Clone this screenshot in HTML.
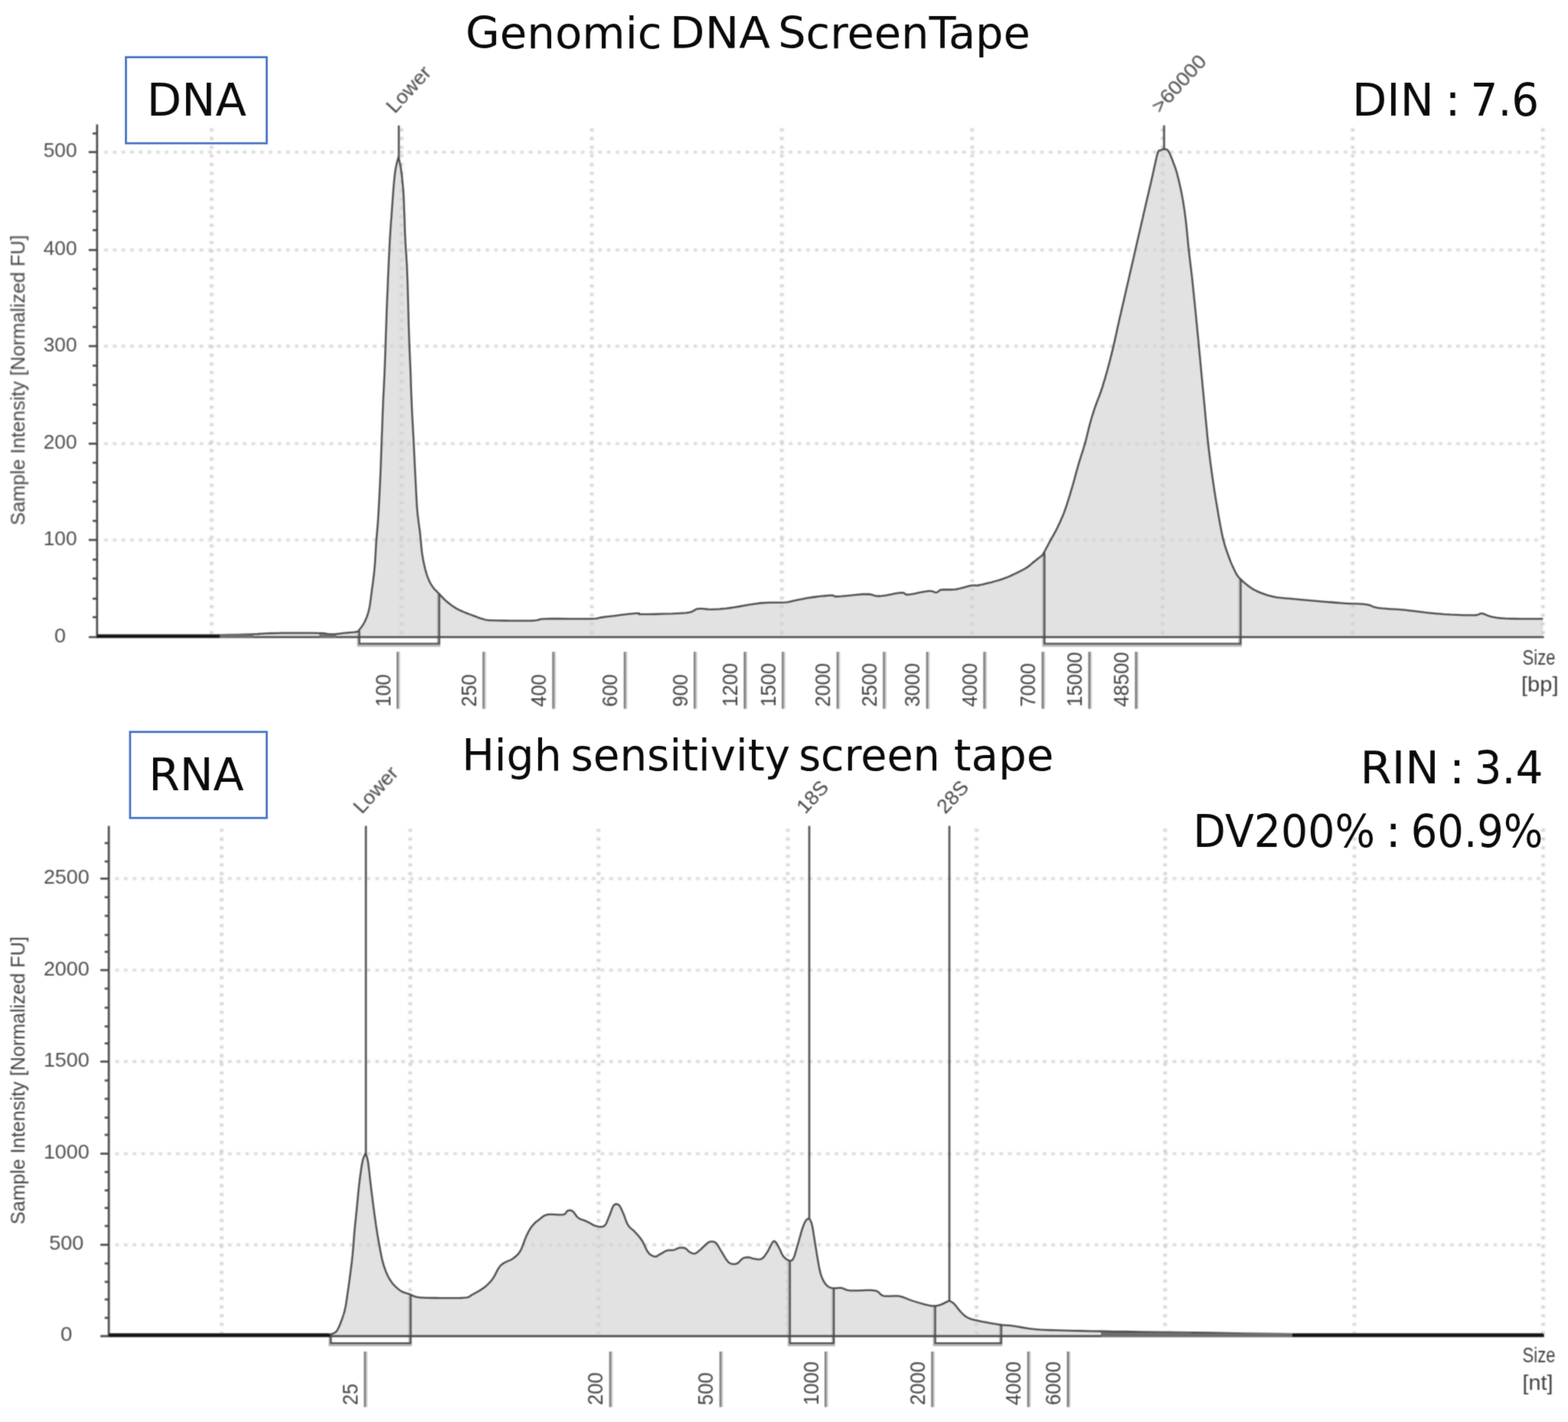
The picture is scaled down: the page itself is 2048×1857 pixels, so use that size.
<!DOCTYPE html>
<html lang="en">
<head>
<meta charset="utf-8">
<title>Genomic DNA ScreenTape / High sensitivity screen tape</title>
<style>
html,body{margin:0;padding:0;background:#fff;}
body{width:2048px;height:1857px;overflow:hidden;position:relative;font-family:"Liberation Sans","DejaVu Sans",sans-serif;}
svg{position:absolute;left:0;top:0;display:block;}
text{font-family:"Liberation Sans","DejaVu Sans",sans-serif;}
.gd{stroke:#d2d2d2;stroke-width:3.4;stroke-dasharray:4.4 6.92;fill:none;}
.gv{stroke:#d0d0d0;stroke-width:4.6;stroke-dasharray:3.6 7.72;fill:none;}
.fl{fill:#e2e2e2;stroke:none;}
.cv{fill:none;stroke:#444444;stroke-width:2.3;stroke-linejoin:round;stroke-linecap:butt;}
.rg{fill:none;stroke:#484848;stroke-width:2.0;stroke-linejoin:miter;}
.rgl{fill:none;stroke:#b4b4b4;stroke-width:4.4;stroke-linejoin:miter;}
.mk{stroke:#505050;stroke-width:2.6;}
.ax{stroke:#4a4a4a;stroke-width:2.7;}
.bk{stroke:#161616;stroke-width:4.0;}
.gb{stroke:#6e6e6e;}
.tk{stroke:#4c4c4c;stroke-width:2.7;}
.xt{stroke:#7a7a7a;stroke-width:2.6;}
.xt2{stroke:#c4c4c4;stroke-width:2.0;}
.yl{font-size:26px;fill:#4e4e4e;}
.yt{font-size:25px;fill:#444444;}
.xl{font-size:27px;fill:#404040;}
.ml{font-size:26px;fill:#444444;}
.sz{font-size:27px;fill:#404040;}
.big{fill:#0a0a0a;}
</style>
</head>
<body>
<svg width="2048" height="1857" viewBox="0 0 2048 1857">
<defs>
<filter id="soft" filterUnits="userSpaceOnUse" x="0" y="0" width="2048" height="1857" color-interpolation-filters="sRGB"><feConvolveMatrix order="3" kernelMatrix="1 2 1 2 4 2 1 2 1" divisor="16" edgeMode="none" preserveAlpha="false"/></filter>
<filter id="soft3" filterUnits="userSpaceOnUse" x="0" y="0" width="2048" height="1857" color-interpolation-filters="sRGB"><feGaussianBlur stdDeviation="0.8"/></filter>
<filter id="soft2" filterUnits="userSpaceOnUse" x="0" y="0" width="2048" height="1857" color-interpolation-filters="sRGB"><feConvolveMatrix order="3" kernelMatrix="0 1 0 1 6 1 0 1 0" divisor="10" edgeMode="none" preserveAlpha="false"/></filter>
</defs>
<rect x="0" y="0" width="2048" height="1857" fill="#ffffff"/>
<g id="charts">
<g id="dna-chart">
<g class="area">
<path class="fl" d="M126.8,829.3 L146.1,829.3 L174.3,829.3 L206.9,829.3 L239.5,829.3 L267.7,829.3 L287.0,829.3 L292.0,829.2 L299.0,829.0 L307.2,828.8 L315.8,828.6 L324.0,828.4 L331.0,828.2 L336.4,828.0 L340.7,827.7 L344.7,827.4 L348.8,827.2 L353.7,827.0 L360.0,826.8 L368.4,826.7 L378.6,826.7 L389.6,826.6 L400.4,826.7 L409.8,826.7 L417.0,826.8 L421.5,826.9 L424.1,827.2 L425.4,827.4 L426.0,827.6 L426.7,827.9 L428.0,828.0 L429.8,828.1 L431.7,828.1 L433.5,828.2 L435.3,828.1 L437.2,828.1 L439.0,828.0 L440.8,827.8 L442.5,827.6 L444.2,827.4 L446.0,827.1 L447.9,826.9 L450.0,826.6 L452.5,826.4 L455.4,826.1 L458.5,825.8 L461.5,825.6 L464.0,825.3 L466.0,825.0 L467.3,824.7 L468.0,824.3 L468.4,823.9 L468.6,823.5 L468.7,823.1 L468.9,822.9 L469.7,821.9 L470.7,820.6 L472.0,818.9 L473.3,817.1 L474.6,815.1 L475.8,813.0 L476.9,810.8 L477.9,808.5 L478.9,806.1 L479.9,803.4 L480.8,800.5 L481.7,797.2 L482.5,793.5 L483.2,789.5 L483.8,785.3 L484.4,780.8 L485.0,776.2 L485.6,771.6 L486.2,767.0 L486.9,762.2 L487.5,757.4 L488.1,752.4 L488.7,747.3 L489.2,742.0 L489.7,736.4 L490.1,730.4 L490.4,724.3 L490.8,718.2 L491.1,712.2 L491.5,706.6 L491.9,701.6 L492.3,697.0 L492.7,692.7 L493.1,688.1 L493.5,683.0 L493.9,677.0 L494.3,669.9 L494.8,662.1 L495.2,653.6 L495.7,644.9 L496.1,636.2 L496.5,627.8 L496.9,619.6 L497.2,611.5 L497.5,603.4 L497.8,595.2 L498.1,586.9 L498.4,578.5 L498.7,569.8 L499.1,560.8 L499.4,551.6 L499.7,542.6 L500.1,533.8 L500.4,525.3 L500.7,517.8 L501.1,511.3 L501.4,504.9 L501.7,498.1 L502.1,490.0 L502.5,480.0 L503.0,467.4 L503.5,452.7 L504.0,436.7 L504.6,420.4 L505.1,404.5 L505.7,390.0 L506.3,376.5 L506.8,363.1 L507.4,350.3 L507.9,338.2 L508.5,327.0 L509.0,317.0 L509.5,308.5 L509.9,301.5 L510.3,295.4 L510.7,289.8 L511.2,284.1 L511.6,278.0 L512.1,271.2 L512.6,264.1 L513.1,257.0 L513.6,250.2 L514.1,243.9 L514.6,238.5 L515.0,234.0 L515.4,230.3 L515.8,227.1 L516.1,224.2 L516.5,221.5 L517.0,218.8 L517.6,216.0 L518.2,213.2 L518.9,210.6 L519.6,208.2 L520.1,206.3 L520.5,204.8 L520.8,206.3 L521.3,208.4 L521.8,210.8 L522.4,213.5 L522.9,216.2 L523.4,218.8 L523.8,221.2 L524.1,223.6 L524.5,226.0 L524.8,228.6 L525.1,231.4 L525.4,234.5 L525.7,237.6 L526.0,240.7 L526.3,244.0 L526.7,247.8 L527.0,252.5 L527.3,258.2 L527.6,265.5 L527.9,274.0 L528.3,283.4 L528.6,293.2 L528.9,302.6 L529.3,311.4 L529.7,319.0 L530.1,325.8 L530.6,332.4 L531.0,339.4 L531.5,347.3 L531.9,356.7 L532.3,368.3 L532.7,381.8 L533.1,396.2 L533.5,410.5 L533.8,424.0 L534.2,435.5 L534.5,444.8 L534.8,452.7 L535.1,459.6 L535.4,466.1 L535.7,472.7 L536.0,480.0 L536.3,487.9 L536.6,496.1 L536.8,504.4 L537.1,512.7 L537.5,521.0 L537.8,529.3 L538.2,537.5 L538.6,545.7 L539.1,553.9 L539.5,562.1 L540.0,570.3 L540.4,578.5 L540.8,586.8 L541.2,595.3 L541.6,603.8 L542.0,612.1 L542.4,620.2 L542.8,627.8 L543.2,635.1 L543.5,642.0 L543.9,648.7 L544.2,655.2 L544.6,661.3 L545.1,667.2 L545.6,672.8 L546.3,678.0 L546.9,682.9 L547.5,687.7 L548.2,692.2 L548.7,696.7 L549.1,701.0 L549.5,705.2 L549.9,709.2 L550.2,713.0 L550.6,716.7 L551.0,720.4 L551.5,724.0 L552.1,727.4 L552.6,730.7 L553.3,734.0 L553.9,737.1 L554.6,740.1 L555.3,743.0 L556.1,745.8 L556.9,748.6 L557.7,751.1 L558.6,753.6 L559.5,755.9 L560.4,758.0 L561.3,760.0 L562.3,761.8 L563.3,763.5 L564.3,765.1 L565.4,766.7 L566.5,768.2 L567.6,769.5 L568.8,770.7 L570.1,771.9 L571.3,773.2 L572.7,774.6 L574.1,776.1 L575.6,777.8 L577.2,779.4 L578.8,781.1 L580.5,782.8 L582.2,784.4 L584.0,786.0 L586.0,787.5 L588.0,789.1 L590.0,790.6 L592.0,792.0 L594.0,793.3 L595.9,794.5 L597.8,795.5 L599.7,796.5 L601.7,797.4 L603.7,798.3 L605.8,799.2 L608.1,800.1 L610.5,801.1 L613.0,802.0 L615.5,803.0 L617.8,803.8 L620.0,804.6 L621.9,805.3 L623.5,806.0 L625.1,806.6 L626.6,807.2 L628.2,807.7 L630.0,808.2 L631.6,808.6 L632.7,809.0 L634.0,809.4 L635.8,809.7 L638.7,810.0 L643.2,810.2 L650.0,810.4 L658.8,810.5 L668.7,810.6 L678.7,810.7 L687.7,810.6 L694.8,810.5 L699.3,810.2 L701.8,809.8 L703.3,809.3 L705.0,808.8 L707.8,808.4 L712.8,808.1 L720.8,808.0 L731.1,808.0 L742.5,808.1 L754.0,808.2 L764.2,808.2 L772.0,808.1 L776.8,807.9 L779.4,807.7 L780.8,807.4 L781.9,807.0 L783.9,806.5 L787.6,806.0 L793.7,805.2 L801.5,804.3 L810.1,803.2 L818.5,802.2 L826.0,801.4 L831.5,800.9 L834.3,800.8 L834.9,801.0 L834.4,801.3 L834.2,801.8 L835.3,802.1 L839.0,802.2 L846.1,802.1 L855.9,802.0 L867.0,801.7 L878.2,801.4 L888.3,800.9 L896.0,800.4 L900.9,799.6 L904.1,798.6 L906.1,797.5 L907.6,796.5 L909.2,795.6 L911.4,795.0 L914.2,794.8 L917.0,794.9 L920.0,795.2 L923.0,795.5 L926.2,795.7 L929.5,795.8 L932.9,795.7 L936.2,795.6 L939.7,795.4 L943.4,795.0 L947.7,794.6 L952.7,794.0 L958.7,793.1 L965.5,792.0 L972.9,790.7 L980.3,789.4 L987.5,788.3 L994.0,787.5 L999.9,787.1 L1005.7,786.9 L1011.1,786.9 L1016.2,786.9 L1020.9,786.9 L1025.0,786.7 L1028.4,786.3 L1031.0,785.9 L1033.1,785.4 L1035.2,784.9 L1037.3,784.4 L1040.0,783.8 L1043.1,783.2 L1046.3,782.6 L1049.8,781.9 L1053.3,781.2 L1057.0,780.6 L1060.8,780.0 L1064.9,779.5 L1069.4,778.9 L1074.1,778.4 L1078.6,778.0 L1082.6,777.7 L1085.8,777.5 L1087.8,777.6 L1088.7,777.9 L1089.1,778.3 L1089.7,778.7 L1091.1,779.0 L1094.0,779.0 L1098.8,778.7 L1105.2,778.1 L1112.3,777.3 L1119.6,776.6 L1126.3,776.0 L1131.7,775.8 L1135.5,776.0 L1138.2,776.5 L1140.4,777.2 L1142.4,777.9 L1144.8,778.4 L1148.0,778.5 L1152.4,778.1 L1157.6,777.3 L1163.2,776.3 L1168.7,775.2 L1173.7,774.4 L1177.5,774.0 L1179.9,774.1 L1181.1,774.6 L1181.8,775.3 L1182.4,775.9 L1183.6,776.4 L1185.8,776.5 L1189.4,776.1 L1194.1,775.3 L1199.3,774.2 L1204.5,773.2 L1209.2,772.4 L1213.0,771.9 L1215.7,771.9 L1217.7,772.2 L1219.3,772.7 L1220.6,773.3 L1221.7,773.6 L1223.0,773.7 L1224.2,773.4 L1225.0,772.8 L1225.8,772.1 L1226.7,771.3 L1227.9,770.7 L1229.6,770.2 L1232.0,770.0 L1234.8,769.9 L1237.9,770.0 L1241.2,770.0 L1244.6,769.9 L1248.0,769.6 L1251.5,769.0 L1255.2,768.1 L1259.0,767.1 L1262.7,766.1 L1266.1,765.2 L1269.0,764.6 L1271.1,764.3 L1272.5,764.4 L1273.7,764.5 L1274.9,764.6 L1276.8,764.5 L1279.6,764.0 L1283.7,763.1 L1288.6,761.9 L1294.2,760.6 L1299.9,759.0 L1305.6,757.3 L1310.8,755.6 L1315.7,753.7 L1320.7,751.6 L1325.6,749.3 L1330.2,747.1 L1334.4,744.9 L1338.0,743.0 L1340.9,741.3 L1343.1,739.7 L1345.0,738.3 L1346.6,736.9 L1348.2,735.5 L1350.0,734.0 L1352.1,732.3 L1354.4,730.5 L1356.7,728.7 L1358.8,727.1 L1360.6,725.6 L1361.9,724.6 L1362.2,724.0 L1362.7,723.1 L1363.2,722.1 L1363.8,721.0 L1364.3,720.1 L1364.6,719.5 L1365.3,718.2 L1366.2,716.5 L1367.3,714.5 L1368.5,712.2 L1369.8,709.7 L1371.2,707.2 L1372.6,704.6 L1374.2,701.8 L1375.9,698.9 L1377.6,695.8 L1379.3,692.6 L1381.0,689.2 L1382.6,685.8 L1384.3,682.2 L1385.9,678.5 L1387.6,674.7 L1389.3,670.6 L1390.9,666.2 L1392.6,661.5 L1394.2,656.3 L1395.9,651.0 L1397.6,645.6 L1399.2,640.2 L1400.7,635.0 L1402.2,629.9 L1403.6,624.9 L1404.9,619.9 L1406.2,615.0 L1407.6,610.2 L1408.9,605.5 L1410.3,600.9 L1411.7,596.5 L1413.1,592.1 L1414.5,587.8 L1415.8,583.5 L1417.1,579.2 L1418.3,574.8 L1419.4,570.3 L1420.5,565.8 L1421.6,561.4 L1422.6,557.1 L1423.7,553.0 L1424.8,549.2 L1425.8,545.5 L1426.9,542.0 L1428.0,538.6 L1429.1,535.2 L1430.3,531.6 L1431.6,528.0 L1432.9,524.5 L1434.3,520.9 L1435.7,517.3 L1437.1,513.5 L1438.5,509.5 L1439.9,505.3 L1441.2,500.9 L1442.6,496.3 L1444.0,491.6 L1445.4,486.8 L1446.7,482.0 L1448.0,477.1 L1449.4,472.0 L1450.7,466.8 L1452.0,461.6 L1453.3,456.4 L1454.5,451.2 L1455.7,446.0 L1456.9,440.6 L1458.1,435.3 L1459.2,430.0 L1460.3,424.9 L1461.4,420.0 L1462.4,415.5 L1463.4,411.4 L1464.3,407.4 L1465.2,403.4 L1466.2,399.1 L1467.3,394.4 L1468.5,389.2 L1469.8,383.6 L1471.1,377.8 L1472.5,371.8 L1473.9,365.8 L1475.2,360.0 L1476.5,354.2 L1477.8,348.5 L1479.2,342.7 L1480.5,337.0 L1481.8,331.2 L1483.1,325.5 L1484.4,319.8 L1485.7,314.2 L1487.0,308.5 L1488.3,302.9 L1489.6,297.2 L1490.9,291.5 L1492.3,285.7 L1493.6,279.7 L1495.0,273.7 L1496.4,267.8 L1497.7,262.1 L1499.0,256.6 L1500.2,251.5 L1501.3,246.6 L1502.4,241.9 L1503.5,237.3 L1504.5,232.7 L1505.6,228.0 L1506.7,223.0 L1507.8,217.7 L1509.0,212.4 L1510.1,207.5 L1511.1,203.3 L1512.0,200.0 L1512.8,198.0 L1513.5,196.9 L1514.1,196.5 L1514.7,196.5 L1515.3,196.5 L1516.0,196.3 L1516.7,195.9 L1517.4,195.5 L1518.1,195.2 L1518.8,195.0 L1519.6,194.9 L1520.4,194.9 L1521.2,194.9 L1522.1,194.9 L1523.0,195.0 L1523.9,195.3 L1524.8,195.9 L1525.8,197.0 L1526.8,198.5 L1527.8,200.5 L1528.8,202.8 L1529.8,205.3 L1530.9,207.9 L1531.9,210.6 L1532.9,213.3 L1533.9,216.0 L1535.0,218.9 L1536.0,222.0 L1537.0,225.3 L1538.0,229.0 L1539.0,233.0 L1540.1,237.4 L1541.1,242.0 L1542.2,246.8 L1543.2,251.7 L1544.1,256.6 L1545.0,261.4 L1545.8,266.3 L1546.5,271.2 L1547.3,276.3 L1548.0,281.6 L1548.7,287.2 L1549.4,293.1 L1550.0,299.4 L1550.7,305.9 L1551.3,312.4 L1551.9,319.0 L1552.6,325.5 L1553.3,331.9 L1554.1,338.3 L1554.8,344.7 L1555.6,351.0 L1556.4,357.4 L1557.1,363.8 L1557.8,370.2 L1558.4,376.5 L1559.1,382.9 L1559.7,389.3 L1560.4,395.6 L1561.0,402.0 L1561.7,408.5 L1562.3,415.1 L1563.0,421.7 L1563.6,428.2 L1564.2,434.4 L1564.8,440.3 L1565.3,445.5 L1565.7,449.9 L1566.1,454.2 L1566.5,458.6 L1567.0,463.7 L1567.6,470.0 L1568.3,477.6 L1569.1,486.2 L1570.0,495.5 L1570.9,505.1 L1571.8,514.7 L1572.7,524.0 L1573.6,533.2 L1574.4,542.5 L1575.3,551.8 L1576.2,561.0 L1577.0,569.8 L1577.9,578.0 L1578.7,585.6 L1579.6,592.6 L1580.4,599.3 L1581.2,605.8 L1582.1,612.3 L1583.0,619.0 L1584.0,625.9 L1585.0,632.8 L1586.0,639.6 L1587.1,646.5 L1588.2,653.4 L1589.4,660.3 L1590.6,667.3 L1591.8,674.6 L1593.1,681.8 L1594.4,688.9 L1595.7,695.4 L1597.0,701.4 L1598.3,706.7 L1599.6,711.4 L1600.9,715.6 L1602.3,719.6 L1603.6,723.4 L1604.9,727.0 L1606.2,730.5 L1607.5,733.8 L1608.8,736.9 L1610.1,739.8 L1611.4,742.5 L1612.6,745.0 L1613.7,747.2 L1614.6,748.9 L1615.4,750.5 L1616.5,752.1 L1617.8,753.7 L1619.6,755.6 L1621.9,757.8 L1624.6,760.3 L1627.6,762.9 L1630.9,765.5 L1634.3,767.9 L1637.8,770.0 L1641.5,771.9 L1645.3,773.6 L1649.4,775.1 L1653.5,776.6 L1657.7,777.8 L1662.0,778.9 L1666.3,779.8 L1670.6,780.4 L1675.0,780.9 L1679.5,781.3 L1684.1,781.7 L1689.0,782.2 L1694.1,782.7 L1699.5,783.2 L1705.1,783.7 L1710.7,784.2 L1716.4,784.6 L1722.0,785.1 L1727.6,785.6 L1733.3,786.1 L1739.1,786.5 L1744.7,787.0 L1750.3,787.4 L1755.6,787.8 L1760.8,788.1 L1766.0,788.3 L1771.1,788.4 L1776.0,788.6 L1780.4,788.9 L1784.4,789.3 L1787.5,789.9 L1789.8,790.6 L1791.8,791.5 L1793.8,792.3 L1796.4,793.1 L1800.0,793.8 L1804.8,794.4 L1810.6,794.9 L1816.8,795.3 L1823.3,795.7 L1829.7,796.2 L1835.6,796.7 L1841.1,797.3 L1846.4,797.9 L1851.6,798.6 L1856.7,799.2 L1861.7,799.9 L1866.7,800.4 L1871.6,800.9 L1876.4,801.3 L1881.2,801.7 L1885.9,802.1 L1890.7,802.4 L1895.6,802.7 L1900.9,802.9 L1906.6,803.1 L1912.4,803.3 L1917.9,803.4 L1922.8,803.4 L1926.7,803.3 L1929.4,803.0 L1931.1,802.5 L1932.3,802.0 L1933.1,801.4 L1934.1,801.1 L1935.6,801.1 L1937.5,801.5 L1939.4,802.2 L1941.4,803.1 L1943.7,804.0 L1946.1,804.9 L1948.9,805.6 L1951.8,806.1 L1954.8,806.6 L1958.0,807.0 L1961.7,807.3 L1965.9,807.6 L1971.0,807.8 L1977.6,808.0 L1985.8,808.1 L1994.5,808.1 L2003.0,808.2 L2010.2,808.2 L2015.3,808.2 L2015.3,832.0 L126.8,832.0 Z"/>
<g class="grid" filter="url(#soft3)">
<line class="gd" x1="136.28" y1="705.1" x2="2015.6" y2="705.1"/>
<line class="gd" x1="136.28" y1="579.4" x2="2015.6" y2="579.4"/>
<line class="gd" x1="136.28" y1="452.0" x2="2015.6" y2="452.0"/>
<line class="gd" x1="136.28" y1="326.5" x2="2015.6" y2="326.5"/>
<line class="gd" x1="136.28" y1="198.6" x2="2015.6" y2="198.6"/>
<line class="gv" x1="276.4" y1="167.78" x2="276.4" y2="829.0"/>
<line class="gv" x1="524.4" y1="167.78" x2="524.4" y2="829.0"/>
<line class="gv" x1="773.0" y1="167.78" x2="773.0" y2="829.0"/>
<line class="gv" x1="1021.2" y1="167.78" x2="1021.2" y2="829.0"/>
<line class="gv" x1="1269.8" y1="167.78" x2="1269.8" y2="829.0"/>
<line class="gv" x1="1518.6" y1="167.78" x2="1518.6" y2="829.0"/>
<line class="gv" x1="1766.7" y1="167.78" x2="1766.7" y2="829.0"/>
<line class="gv" x1="2015.2" y1="167.78" x2="2015.2" y2="829.0"/>
</g>
</g>
<g class="lines" filter="url(#soft)">
<path class="rgl" d="M468.6,824.5 L468.6,842.4 L573.0,842.4 L573.0,775.9"/>
<path class="rg" d="M469.3,823.5 L469.3,840.6 L573.7,840.6 L573.7,774.9"/>
<path class="rgl" d="M1363.5,722.6 L1363.5,842.4 L1619.8,842.4 L1619.8,756.8"/>
<path class="rg" d="M1364.2,721.6 L1364.2,840.6 L1620.5,840.6 L1620.5,755.8"/>
<path class="cv" d="M126.8,829.3 L146.1,829.3 L174.3,829.3 L206.9,829.3 L239.5,829.3 L267.7,829.3 L287.0,829.3 L292.0,829.2 L299.0,829.0 L307.2,828.8 L315.8,828.6 L324.0,828.4 L331.0,828.2 L336.4,828.0 L340.7,827.7 L344.7,827.4 L348.8,827.2 L353.7,827.0 L360.0,826.8 L368.4,826.7 L378.6,826.7 L389.6,826.6 L400.4,826.7 L409.8,826.7 L417.0,826.8 L421.5,826.9 L424.1,827.2 L425.4,827.4 L426.0,827.6 L426.7,827.9 L428.0,828.0 L429.8,828.1 L431.7,828.1 L433.5,828.2 L435.3,828.1 L437.2,828.1 L439.0,828.0 L440.8,827.8 L442.5,827.6 L444.2,827.4 L446.0,827.1 L447.9,826.9 L450.0,826.6 L452.5,826.4 L455.4,826.1 L458.5,825.8 L461.5,825.6 L464.0,825.3 L466.0,825.0 L467.3,824.7 L468.0,824.3 L468.4,823.9 L468.6,823.5 L468.7,823.1 L468.9,822.9 L469.7,821.9 L470.7,820.6 L472.0,818.9 L473.3,817.1 L474.6,815.1 L475.8,813.0 L476.9,810.8 L477.9,808.5 L478.9,806.1 L479.9,803.4 L480.8,800.5 L481.7,797.2 L482.5,793.5 L483.2,789.5 L483.8,785.3 L484.4,780.8 L485.0,776.2 L485.6,771.6 L486.2,767.0 L486.9,762.2 L487.5,757.4 L488.1,752.4 L488.7,747.3 L489.2,742.0 L489.7,736.4 L490.1,730.4 L490.4,724.3 L490.8,718.2 L491.1,712.2 L491.5,706.6 L491.9,701.6 L492.3,697.0 L492.7,692.7 L493.1,688.1 L493.5,683.0 L493.9,677.0 L494.3,669.9 L494.8,662.1 L495.2,653.6 L495.7,644.9 L496.1,636.2 L496.5,627.8 L496.9,619.6 L497.2,611.5 L497.5,603.4 L497.8,595.2 L498.1,586.9 L498.4,578.5 L498.7,569.8 L499.1,560.8 L499.4,551.6 L499.7,542.6 L500.1,533.8 L500.4,525.3 L500.7,517.8 L501.1,511.3 L501.4,504.9 L501.7,498.1 L502.1,490.0 L502.5,480.0 L503.0,467.4 L503.5,452.7 L504.0,436.7 L504.6,420.4 L505.1,404.5 L505.7,390.0 L506.3,376.5 L506.8,363.1 L507.4,350.3 L507.9,338.2 L508.5,327.0 L509.0,317.0 L509.5,308.5 L509.9,301.5 L510.3,295.4 L510.7,289.8 L511.2,284.1 L511.6,278.0 L512.1,271.2 L512.6,264.1 L513.1,257.0 L513.6,250.2 L514.1,243.9 L514.6,238.5 L515.0,234.0 L515.4,230.3 L515.8,227.1 L516.1,224.2 L516.5,221.5 L517.0,218.8 L517.6,216.0 L518.2,213.2 L518.9,210.6 L519.6,208.2 L520.1,206.3 L520.5,204.8 L520.8,206.3 L521.3,208.4 L521.8,210.8 L522.4,213.5 L522.9,216.2 L523.4,218.8 L523.8,221.2 L524.1,223.6 L524.5,226.0 L524.8,228.6 L525.1,231.4 L525.4,234.5 L525.7,237.6 L526.0,240.7 L526.3,244.0 L526.7,247.8 L527.0,252.5 L527.3,258.2 L527.6,265.5 L527.9,274.0 L528.3,283.4 L528.6,293.2 L528.9,302.6 L529.3,311.4 L529.7,319.0 L530.1,325.8 L530.6,332.4 L531.0,339.4 L531.5,347.3 L531.9,356.7 L532.3,368.3 L532.7,381.8 L533.1,396.2 L533.5,410.5 L533.8,424.0 L534.2,435.5 L534.5,444.8 L534.8,452.7 L535.1,459.6 L535.4,466.1 L535.7,472.7 L536.0,480.0 L536.3,487.9 L536.6,496.1 L536.8,504.4 L537.1,512.7 L537.5,521.0 L537.8,529.3 L538.2,537.5 L538.6,545.7 L539.1,553.9 L539.5,562.1 L540.0,570.3 L540.4,578.5 L540.8,586.8 L541.2,595.3 L541.6,603.8 L542.0,612.1 L542.4,620.2 L542.8,627.8 L543.2,635.1 L543.5,642.0 L543.9,648.7 L544.2,655.2 L544.6,661.3 L545.1,667.2 L545.6,672.8 L546.3,678.0 L546.9,682.9 L547.5,687.7 L548.2,692.2 L548.7,696.7 L549.1,701.0 L549.5,705.2 L549.9,709.2 L550.2,713.0 L550.6,716.7 L551.0,720.4 L551.5,724.0 L552.1,727.4 L552.6,730.7 L553.3,734.0 L553.9,737.1 L554.6,740.1 L555.3,743.0 L556.1,745.8 L556.9,748.6 L557.7,751.1 L558.6,753.6 L559.5,755.9 L560.4,758.0 L561.3,760.0 L562.3,761.8 L563.3,763.5 L564.3,765.1 L565.4,766.7 L566.5,768.2 L567.6,769.5 L568.8,770.7 L570.1,771.9 L571.3,773.2 L572.7,774.6 L574.1,776.1 L575.6,777.8 L577.2,779.4 L578.8,781.1 L580.5,782.8 L582.2,784.4 L584.0,786.0 L586.0,787.5 L588.0,789.1 L590.0,790.6 L592.0,792.0 L594.0,793.3 L595.9,794.5 L597.8,795.5 L599.7,796.5 L601.7,797.4 L603.7,798.3 L605.8,799.2 L608.1,800.1 L610.5,801.1 L613.0,802.0 L615.5,803.0 L617.8,803.8 L620.0,804.6 L621.9,805.3 L623.5,806.0 L625.1,806.6 L626.6,807.2 L628.2,807.7 L630.0,808.2 L631.6,808.6 L632.7,809.0 L634.0,809.4 L635.8,809.7 L638.7,810.0 L643.2,810.2 L650.0,810.4 L658.8,810.5 L668.7,810.6 L678.7,810.7 L687.7,810.6 L694.8,810.5 L699.3,810.2 L701.8,809.8 L703.3,809.3 L705.0,808.8 L707.8,808.4 L712.8,808.1 L720.8,808.0 L731.1,808.0 L742.5,808.1 L754.0,808.2 L764.2,808.2 L772.0,808.1 L776.8,807.9 L779.4,807.7 L780.8,807.4 L781.9,807.0 L783.9,806.5 L787.6,806.0 L793.7,805.2 L801.5,804.3 L810.1,803.2 L818.5,802.2 L826.0,801.4 L831.5,800.9 L834.3,800.8 L834.9,801.0 L834.4,801.3 L834.2,801.8 L835.3,802.1 L839.0,802.2 L846.1,802.1 L855.9,802.0 L867.0,801.7 L878.2,801.4 L888.3,800.9 L896.0,800.4 L900.9,799.6 L904.1,798.6 L906.1,797.5 L907.6,796.5 L909.2,795.6 L911.4,795.0 L914.2,794.8 L917.0,794.9 L920.0,795.2 L923.0,795.5 L926.2,795.7 L929.5,795.8 L932.9,795.7 L936.2,795.6 L939.7,795.4 L943.4,795.0 L947.7,794.6 L952.7,794.0 L958.7,793.1 L965.5,792.0 L972.9,790.7 L980.3,789.4 L987.5,788.3 L994.0,787.5 L999.9,787.1 L1005.7,786.9 L1011.1,786.9 L1016.2,786.9 L1020.9,786.9 L1025.0,786.7 L1028.4,786.3 L1031.0,785.9 L1033.1,785.4 L1035.2,784.9 L1037.3,784.4 L1040.0,783.8 L1043.1,783.2 L1046.3,782.6 L1049.8,781.9 L1053.3,781.2 L1057.0,780.6 L1060.8,780.0 L1064.9,779.5 L1069.4,778.9 L1074.1,778.4 L1078.6,778.0 L1082.6,777.7 L1085.8,777.5 L1087.8,777.6 L1088.7,777.9 L1089.1,778.3 L1089.7,778.7 L1091.1,779.0 L1094.0,779.0 L1098.8,778.7 L1105.2,778.1 L1112.3,777.3 L1119.6,776.6 L1126.3,776.0 L1131.7,775.8 L1135.5,776.0 L1138.2,776.5 L1140.4,777.2 L1142.4,777.9 L1144.8,778.4 L1148.0,778.5 L1152.4,778.1 L1157.6,777.3 L1163.2,776.3 L1168.7,775.2 L1173.7,774.4 L1177.5,774.0 L1179.9,774.1 L1181.1,774.6 L1181.8,775.3 L1182.4,775.9 L1183.6,776.4 L1185.8,776.5 L1189.4,776.1 L1194.1,775.3 L1199.3,774.2 L1204.5,773.2 L1209.2,772.4 L1213.0,771.9 L1215.7,771.9 L1217.7,772.2 L1219.3,772.7 L1220.6,773.3 L1221.7,773.6 L1223.0,773.7 L1224.2,773.4 L1225.0,772.8 L1225.8,772.1 L1226.7,771.3 L1227.9,770.7 L1229.6,770.2 L1232.0,770.0 L1234.8,769.9 L1237.9,770.0 L1241.2,770.0 L1244.6,769.9 L1248.0,769.6 L1251.5,769.0 L1255.2,768.1 L1259.0,767.1 L1262.7,766.1 L1266.1,765.2 L1269.0,764.6 L1271.1,764.3 L1272.5,764.4 L1273.7,764.5 L1274.9,764.6 L1276.8,764.5 L1279.6,764.0 L1283.7,763.1 L1288.6,761.9 L1294.2,760.6 L1299.9,759.0 L1305.6,757.3 L1310.8,755.6 L1315.7,753.7 L1320.7,751.6 L1325.6,749.3 L1330.2,747.1 L1334.4,744.9 L1338.0,743.0 L1340.9,741.3 L1343.1,739.7 L1345.0,738.3 L1346.6,736.9 L1348.2,735.5 L1350.0,734.0 L1352.1,732.3 L1354.4,730.5 L1356.7,728.7 L1358.8,727.1 L1360.6,725.6 L1361.9,724.6 L1362.2,724.0 L1362.7,723.1 L1363.2,722.1 L1363.8,721.0 L1364.3,720.1 L1364.6,719.5 L1365.3,718.2 L1366.2,716.5 L1367.3,714.5 L1368.5,712.2 L1369.8,709.7 L1371.2,707.2 L1372.6,704.6 L1374.2,701.8 L1375.9,698.9 L1377.6,695.8 L1379.3,692.6 L1381.0,689.2 L1382.6,685.8 L1384.3,682.2 L1385.9,678.5 L1387.6,674.7 L1389.3,670.6 L1390.9,666.2 L1392.6,661.5 L1394.2,656.3 L1395.9,651.0 L1397.6,645.6 L1399.2,640.2 L1400.7,635.0 L1402.2,629.9 L1403.6,624.9 L1404.9,619.9 L1406.2,615.0 L1407.6,610.2 L1408.9,605.5 L1410.3,600.9 L1411.7,596.5 L1413.1,592.1 L1414.5,587.8 L1415.8,583.5 L1417.1,579.2 L1418.3,574.8 L1419.4,570.3 L1420.5,565.8 L1421.6,561.4 L1422.6,557.1 L1423.7,553.0 L1424.8,549.2 L1425.8,545.5 L1426.9,542.0 L1428.0,538.6 L1429.1,535.2 L1430.3,531.6 L1431.6,528.0 L1432.9,524.5 L1434.3,520.9 L1435.7,517.3 L1437.1,513.5 L1438.5,509.5 L1439.9,505.3 L1441.2,500.9 L1442.6,496.3 L1444.0,491.6 L1445.4,486.8 L1446.7,482.0 L1448.0,477.1 L1449.4,472.0 L1450.7,466.8 L1452.0,461.6 L1453.3,456.4 L1454.5,451.2 L1455.7,446.0 L1456.9,440.6 L1458.1,435.3 L1459.2,430.0 L1460.3,424.9 L1461.4,420.0 L1462.4,415.5 L1463.4,411.4 L1464.3,407.4 L1465.2,403.4 L1466.2,399.1 L1467.3,394.4 L1468.5,389.2 L1469.8,383.6 L1471.1,377.8 L1472.5,371.8 L1473.9,365.8 L1475.2,360.0 L1476.5,354.2 L1477.8,348.5 L1479.2,342.7 L1480.5,337.0 L1481.8,331.2 L1483.1,325.5 L1484.4,319.8 L1485.7,314.2 L1487.0,308.5 L1488.3,302.9 L1489.6,297.2 L1490.9,291.5 L1492.3,285.7 L1493.6,279.7 L1495.0,273.7 L1496.4,267.8 L1497.7,262.1 L1499.0,256.6 L1500.2,251.5 L1501.3,246.6 L1502.4,241.9 L1503.5,237.3 L1504.5,232.7 L1505.6,228.0 L1506.7,223.0 L1507.8,217.7 L1509.0,212.4 L1510.1,207.5 L1511.1,203.3 L1512.0,200.0 L1512.8,198.0 L1513.5,196.9 L1514.1,196.5 L1514.7,196.5 L1515.3,196.5 L1516.0,196.3 L1516.7,195.9 L1517.4,195.5 L1518.1,195.2 L1518.8,195.0 L1519.6,194.9 L1520.4,194.9 L1521.2,194.9 L1522.1,194.9 L1523.0,195.0 L1523.9,195.3 L1524.8,195.9 L1525.8,197.0 L1526.8,198.5 L1527.8,200.5 L1528.8,202.8 L1529.8,205.3 L1530.9,207.9 L1531.9,210.6 L1532.9,213.3 L1533.9,216.0 L1535.0,218.9 L1536.0,222.0 L1537.0,225.3 L1538.0,229.0 L1539.0,233.0 L1540.1,237.4 L1541.1,242.0 L1542.2,246.8 L1543.2,251.7 L1544.1,256.6 L1545.0,261.4 L1545.8,266.3 L1546.5,271.2 L1547.3,276.3 L1548.0,281.6 L1548.7,287.2 L1549.4,293.1 L1550.0,299.4 L1550.7,305.9 L1551.3,312.4 L1551.9,319.0 L1552.6,325.5 L1553.3,331.9 L1554.1,338.3 L1554.8,344.7 L1555.6,351.0 L1556.4,357.4 L1557.1,363.8 L1557.8,370.2 L1558.4,376.5 L1559.1,382.9 L1559.7,389.3 L1560.4,395.6 L1561.0,402.0 L1561.7,408.5 L1562.3,415.1 L1563.0,421.7 L1563.6,428.2 L1564.2,434.4 L1564.8,440.3 L1565.3,445.5 L1565.7,449.9 L1566.1,454.2 L1566.5,458.6 L1567.0,463.7 L1567.6,470.0 L1568.3,477.6 L1569.1,486.2 L1570.0,495.5 L1570.9,505.1 L1571.8,514.7 L1572.7,524.0 L1573.6,533.2 L1574.4,542.5 L1575.3,551.8 L1576.2,561.0 L1577.0,569.8 L1577.9,578.0 L1578.7,585.6 L1579.6,592.6 L1580.4,599.3 L1581.2,605.8 L1582.1,612.3 L1583.0,619.0 L1584.0,625.9 L1585.0,632.8 L1586.0,639.6 L1587.1,646.5 L1588.2,653.4 L1589.4,660.3 L1590.6,667.3 L1591.8,674.6 L1593.1,681.8 L1594.4,688.9 L1595.7,695.4 L1597.0,701.4 L1598.3,706.7 L1599.6,711.4 L1600.9,715.6 L1602.3,719.6 L1603.6,723.4 L1604.9,727.0 L1606.2,730.5 L1607.5,733.8 L1608.8,736.9 L1610.1,739.8 L1611.4,742.5 L1612.6,745.0 L1613.7,747.2 L1614.6,748.9 L1615.4,750.5 L1616.5,752.1 L1617.8,753.7 L1619.6,755.6 L1621.9,757.8 L1624.6,760.3 L1627.6,762.9 L1630.9,765.5 L1634.3,767.9 L1637.8,770.0 L1641.5,771.9 L1645.3,773.6 L1649.4,775.1 L1653.5,776.6 L1657.7,777.8 L1662.0,778.9 L1666.3,779.8 L1670.6,780.4 L1675.0,780.9 L1679.5,781.3 L1684.1,781.7 L1689.0,782.2 L1694.1,782.7 L1699.5,783.2 L1705.1,783.7 L1710.7,784.2 L1716.4,784.6 L1722.0,785.1 L1727.6,785.6 L1733.3,786.1 L1739.1,786.5 L1744.7,787.0 L1750.3,787.4 L1755.6,787.8 L1760.8,788.1 L1766.0,788.3 L1771.1,788.4 L1776.0,788.6 L1780.4,788.9 L1784.4,789.3 L1787.5,789.9 L1789.8,790.6 L1791.8,791.5 L1793.8,792.3 L1796.4,793.1 L1800.0,793.8 L1804.8,794.4 L1810.6,794.9 L1816.8,795.3 L1823.3,795.7 L1829.7,796.2 L1835.6,796.7 L1841.1,797.3 L1846.4,797.9 L1851.6,798.6 L1856.7,799.2 L1861.7,799.9 L1866.7,800.4 L1871.6,800.9 L1876.4,801.3 L1881.2,801.7 L1885.9,802.1 L1890.7,802.4 L1895.6,802.7 L1900.9,802.9 L1906.6,803.1 L1912.4,803.3 L1917.9,803.4 L1922.8,803.4 L1926.7,803.3 L1929.4,803.0 L1931.1,802.5 L1932.3,802.0 L1933.1,801.4 L1934.1,801.1 L1935.6,801.1 L1937.5,801.5 L1939.4,802.2 L1941.4,803.1 L1943.7,804.0 L1946.1,804.9 L1948.9,805.6 L1951.8,806.1 L1954.8,806.6 L1958.0,807.0 L1961.7,807.3 L1965.9,807.6 L1971.0,807.8 L1977.6,808.0 L1985.8,808.1 L1994.5,808.1 L2003.0,808.2 L2010.2,808.2 L2015.3,808.2"/>
<line class="mk" x1="520.9" y1="163.8" x2="520.9" y2="206.6"/>
<line class="mk" x1="1520.4" y1="163.7" x2="1520.4" y2="194.9"/>
<line class="ax" x1="126.8" y1="162.6" x2="126.8" y2="833.3"/>
<line class="ax" x1="115.8" y1="832.0" x2="2016.6" y2="832.0"/>
<line class="gb" stroke-width="4.8" x1="287.0" y1="830.7" x2="331.0" y2="830.7"/>
<line class="gb" stroke-width="4.8" x1="417.0" y1="830.7" x2="439.0" y2="830.7"/>
<line class="bk" x1="126.8" y1="830.9" x2="287.0" y2="830.9"/>
<line class="tk" x1="115.8" y1="705.1" x2="126.8" y2="705.1"/>
<line class="tk" x1="115.8" y1="579.4" x2="126.8" y2="579.4"/>
<line class="tk" x1="115.8" y1="452.0" x2="126.8" y2="452.0"/>
<line class="tk" x1="115.8" y1="326.5" x2="126.8" y2="326.5"/>
<line class="tk" x1="115.8" y1="198.6" x2="126.8" y2="198.6"/>
<line class="tk" x1="121.0" y1="174.3" x2="126.8" y2="174.3"/>
<line class="tk" x1="121.0" y1="224.5" x2="126.8" y2="224.5"/>
<line class="tk" x1="121.0" y1="249.8" x2="126.8" y2="249.8"/>
<line class="tk" x1="121.0" y1="276.0" x2="126.8" y2="276.0"/>
<line class="tk" x1="121.0" y1="300.6" x2="126.8" y2="300.6"/>
<line class="tk" x1="121.0" y1="351.8" x2="126.8" y2="351.8"/>
<line class="tk" x1="121.0" y1="377.0" x2="126.8" y2="377.0"/>
<line class="tk" x1="121.0" y1="402.0" x2="126.8" y2="402.0"/>
<line class="tk" x1="121.0" y1="427.0" x2="126.8" y2="427.0"/>
<line class="tk" x1="121.0" y1="477.5" x2="126.8" y2="477.5"/>
<line class="tk" x1="121.0" y1="502.8" x2="126.8" y2="502.8"/>
<line class="tk" x1="121.0" y1="528.3" x2="126.8" y2="528.3"/>
<line class="tk" x1="121.0" y1="552.6" x2="126.8" y2="552.6"/>
<line class="tk" x1="121.0" y1="604.3" x2="126.8" y2="604.3"/>
<line class="tk" x1="121.0" y1="630.0" x2="126.8" y2="630.0"/>
<line class="tk" x1="121.0" y1="654.9" x2="126.8" y2="654.9"/>
<line class="tk" x1="121.0" y1="680.2" x2="126.8" y2="680.2"/>
<line class="tk" x1="121.0" y1="730.8" x2="126.8" y2="730.8"/>
<line class="tk" x1="121.0" y1="755.5" x2="126.8" y2="755.5"/>
<line class="tk" x1="121.0" y1="781.8" x2="126.8" y2="781.8"/>
<line class="tk" x1="121.0" y1="806.0" x2="126.8" y2="806.0"/>
<line class="xt" x1="519.3" y1="851.2" x2="519.3" y2="925.6"/>
<line class="xt2" x1="521.5" y1="851.2" x2="521.5" y2="925.6"/>
<line class="xt" x1="631.5" y1="851.2" x2="631.5" y2="925.6"/>
<line class="xt2" x1="633.7" y1="851.2" x2="633.7" y2="925.6"/>
<line class="xt" x1="722.6" y1="851.2" x2="722.6" y2="925.6"/>
<line class="xt2" x1="724.8" y1="851.2" x2="724.8" y2="925.6"/>
<line class="xt" x1="816.0" y1="851.2" x2="816.0" y2="925.6"/>
<line class="xt2" x1="818.2" y1="851.2" x2="818.2" y2="925.6"/>
<line class="xt" x1="907.3" y1="851.2" x2="907.3" y2="925.6"/>
<line class="xt2" x1="909.5" y1="851.2" x2="909.5" y2="925.6"/>
<line class="xt" x1="972.7" y1="851.2" x2="972.7" y2="925.6"/>
<line class="xt2" x1="974.9" y1="851.2" x2="974.9" y2="925.6"/>
<line class="xt" x1="1022.4" y1="851.2" x2="1022.4" y2="925.6"/>
<line class="xt2" x1="1024.6" y1="851.2" x2="1024.6" y2="925.6"/>
<line class="xt" x1="1094.0" y1="851.2" x2="1094.0" y2="925.6"/>
<line class="xt2" x1="1096.2" y1="851.2" x2="1096.2" y2="925.6"/>
<line class="xt" x1="1154.5" y1="851.2" x2="1154.5" y2="925.6"/>
<line class="xt2" x1="1156.7" y1="851.2" x2="1156.7" y2="925.6"/>
<line class="xt" x1="1211.0" y1="851.2" x2="1211.0" y2="925.6"/>
<line class="xt2" x1="1213.2" y1="851.2" x2="1213.2" y2="925.6"/>
<line class="xt" x1="1285.6" y1="851.2" x2="1285.6" y2="925.6"/>
<line class="xt2" x1="1287.8" y1="851.2" x2="1287.8" y2="925.6"/>
<line class="xt" x1="1361.8" y1="851.2" x2="1361.8" y2="925.6"/>
<line class="xt2" x1="1364.0" y1="851.2" x2="1364.0" y2="925.6"/>
<line class="xt" x1="1422.7" y1="851.2" x2="1422.7" y2="925.6"/>
<line class="xt2" x1="1424.9" y1="851.2" x2="1424.9" y2="925.6"/>
<line class="xt" x1="1483.7" y1="851.2" x2="1483.7" y2="925.6"/>
<line class="xt2" x1="1485.9" y1="851.2" x2="1485.9" y2="925.6"/>
</g>
<g class="labels" filter="url(#soft)">
<text class="yl" x="78.6" y="838.6" text-anchor="middle" textLength="15.0" lengthAdjust="spacingAndGlyphs">0</text>
<text class="yl" x="78.6" y="711.7" text-anchor="middle" textLength="43.8" lengthAdjust="spacingAndGlyphs">100</text>
<text class="yl" x="78.6" y="586.0" text-anchor="middle" textLength="43.8" lengthAdjust="spacingAndGlyphs">200</text>
<text class="yl" x="78.6" y="458.6" text-anchor="middle" textLength="43.8" lengthAdjust="spacingAndGlyphs">300</text>
<text class="yl" x="78.6" y="333.1" text-anchor="middle" textLength="43.8" lengthAdjust="spacingAndGlyphs">400</text>
<text class="yl" x="78.6" y="205.2" text-anchor="middle" textLength="43.8" lengthAdjust="spacingAndGlyphs">500</text>
<text class="yt" transform="translate(32.2,496.5) rotate(-90)" text-anchor="middle" textLength="379" lengthAdjust="spacingAndGlyphs">Sample Intensity [Normalized FU]</text>
<text class="xl" transform="translate(509.7,923.0) rotate(-90)" textLength="42.5" lengthAdjust="spacingAndGlyphs">100</text>
<text class="xl" transform="translate(621.9,923.0) rotate(-90)" textLength="42.5" lengthAdjust="spacingAndGlyphs">250</text>
<text class="xl" transform="translate(713.0,923.0) rotate(-90)" textLength="42.5" lengthAdjust="spacingAndGlyphs">400</text>
<text class="xl" transform="translate(806.4,923.0) rotate(-90)" textLength="42.5" lengthAdjust="spacingAndGlyphs">600</text>
<text class="xl" transform="translate(897.7,923.0) rotate(-90)" textLength="42.5" lengthAdjust="spacingAndGlyphs">900</text>
<text class="xl" transform="translate(963.1,923.0) rotate(-90)" textLength="57.0" lengthAdjust="spacingAndGlyphs">1200</text>
<text class="xl" transform="translate(1012.8,923.0) rotate(-90)" textLength="57.0" lengthAdjust="spacingAndGlyphs">1500</text>
<text class="xl" transform="translate(1084.4,923.0) rotate(-90)" textLength="57.0" lengthAdjust="spacingAndGlyphs">2000</text>
<text class="xl" transform="translate(1144.9,923.0) rotate(-90)" textLength="57.0" lengthAdjust="spacingAndGlyphs">2500</text>
<text class="xl" transform="translate(1201.4,923.0) rotate(-90)" textLength="57.0" lengthAdjust="spacingAndGlyphs">3000</text>
<text class="xl" transform="translate(1276.0,923.0) rotate(-90)" textLength="57.0" lengthAdjust="spacingAndGlyphs">4000</text>
<text class="xl" transform="translate(1352.2,923.0) rotate(-90)" textLength="57.0" lengthAdjust="spacingAndGlyphs">7000</text>
<text class="xl" transform="translate(1413.1,923.0) rotate(-90)" textLength="71.5" lengthAdjust="spacingAndGlyphs">15000</text>
<text class="xl" transform="translate(1474.1,923.0) rotate(-90)" textLength="71.5" lengthAdjust="spacingAndGlyphs">48500</text>
<text class="ml" transform="translate(515.7,149.2) rotate(-47.5)" textLength="72.5" lengthAdjust="spacingAndGlyphs">Lower</text>
<text class="ml" transform="translate(1515.2,149.1) rotate(-47.5)" textLength="92" lengthAdjust="spacingAndGlyphs">&gt;60000</text>
<text class="sz" x="1988.5" y="867.7" textLength="43" lengthAdjust="spacingAndGlyphs">Size</text>
<text class="sz" x="1987.0" y="903.0" textLength="48.5" lengthAdjust="spacingAndGlyphs">[bp]</text>
</g>
</g>
<g id="rna-chart">
<g class="area">
<path class="fl" d="M142.1,1742.2 L176.5,1742.2 L226.8,1742.2 L285.1,1742.2 L343.3,1742.2 L393.6,1742.2 L428.0,1742.2 L428.3,1742.3 L428.7,1742.3 L429.1,1742.5 L429.6,1742.5 L430.1,1742.6 L430.6,1742.6 L431.1,1742.6 L431.5,1742.5 L432.0,1742.4 L432.5,1742.3 L433.1,1742.1 L433.8,1741.8 L434.6,1741.5 L435.5,1741.2 L436.5,1740.8 L437.5,1740.3 L438.4,1739.6 L439.4,1738.6 L440.3,1737.3 L441.2,1735.7 L442.1,1733.9 L443.1,1732.0 L444.0,1729.8 L444.9,1727.5 L445.8,1725.0 L446.8,1722.4 L447.8,1719.5 L448.8,1716.5 L449.7,1713.4 L450.5,1710.0 L451.3,1706.4 L452.0,1702.5 L452.6,1698.5 L453.2,1694.4 L453.8,1690.2 L454.4,1686.2 L455.0,1682.2 L455.5,1678.3 L456.1,1674.3 L456.6,1670.4 L457.1,1666.5 L457.6,1662.5 L458.1,1658.6 L458.6,1654.9 L459.1,1651.1 L459.6,1647.2 L460.0,1643.1 L460.5,1638.7 L460.9,1633.9 L461.4,1628.7 L461.8,1623.3 L462.2,1617.9 L462.6,1612.4 L463.1,1607.0 L463.6,1601.7 L464.1,1596.4 L464.7,1591.1 L465.2,1585.8 L465.8,1580.5 L466.3,1575.2 L466.8,1569.9 L467.3,1564.5 L467.8,1559.1 L468.4,1553.7 L468.9,1548.5 L469.5,1543.5 L470.1,1538.5 L470.8,1533.5 L471.5,1528.7 L472.1,1524.1 L472.8,1520.0 L473.5,1516.5 L474.2,1513.7 L475.0,1511.4 L475.7,1509.7 L476.4,1508.3 L477.0,1507.1 L477.4,1506.2 L477.7,1507.1 L478.2,1508.3 L478.8,1509.7 L479.4,1511.4 L480.0,1513.7 L480.6,1516.5 L481.1,1520.0 L481.6,1524.1 L482.2,1528.7 L482.7,1533.5 L483.2,1538.5 L483.8,1543.5 L484.4,1548.5 L485.0,1553.8 L485.7,1559.2 L486.4,1564.7 L487.0,1570.0 L487.7,1575.2 L488.4,1580.2 L489.0,1585.1 L489.7,1590.0 L490.4,1594.7 L491.0,1599.4 L491.7,1603.8 L492.4,1608.1 L493.0,1612.2 L493.7,1616.2 L494.4,1620.1 L495.0,1623.9 L495.7,1627.5 L496.4,1631.0 L497.0,1634.4 L497.7,1637.7 L498.3,1640.9 L498.9,1643.8 L499.6,1646.6 L500.3,1649.1 L500.9,1651.4 L501.5,1653.5 L502.2,1655.5 L502.9,1657.4 L503.6,1659.3 L504.3,1661.2 L505.1,1663.0 L505.9,1664.7 L506.7,1666.4 L507.5,1668.0 L508.4,1669.6 L509.3,1671.2 L510.3,1672.6 L511.3,1674.1 L512.3,1675.5 L513.4,1676.9 L514.7,1678.3 L516.1,1679.7 L517.6,1681.1 L519.2,1682.5 L520.8,1683.9 L522.5,1685.1 L524.2,1686.2 L526.0,1687.1 L527.8,1687.8 L529.6,1688.4 L531.5,1689.0 L533.4,1689.6 L535.3,1690.2 L537.0,1690.9 L538.6,1691.7 L540.1,1692.4 L541.9,1693.1 L543.9,1693.7 L546.4,1694.2 L549.3,1694.5 L552.4,1694.7 L555.9,1694.9 L559.7,1694.9 L563.9,1695.0 L568.7,1695.0 L574.5,1695.1 L581.3,1695.1 L588.5,1695.1 L595.6,1695.1 L601.8,1695.0 L606.7,1694.7 L609.9,1694.3 L611.8,1693.9 L612.9,1693.4 L613.7,1692.8 L614.7,1692.0 L616.3,1691.0 L618.6,1689.8 L621.3,1688.3 L624.1,1686.7 L627.0,1685.0 L629.7,1683.2 L632.1,1681.5 L634.3,1679.8 L636.3,1678.0 L638.1,1676.2 L639.9,1674.4 L641.6,1672.5 L643.2,1670.4 L644.7,1668.1 L646.2,1665.6 L647.5,1663.0 L648.8,1660.4 L650.0,1658.1 L651.2,1656.1 L652.3,1654.6 L653.2,1653.4 L654.1,1652.5 L655.0,1651.6 L656.1,1650.8 L657.5,1649.8 L659.3,1648.8 L661.4,1647.8 L663.6,1646.8 L666.0,1645.8 L668.2,1644.7 L670.2,1643.4 L672.0,1642.0 L673.7,1640.7 L675.3,1639.2 L676.8,1637.6 L678.3,1635.6 L679.7,1633.4 L681.1,1630.7 L682.4,1627.4 L683.7,1624.0 L685.0,1620.4 L686.2,1617.1 L687.5,1614.1 L688.8,1611.5 L690.0,1609.1 L691.2,1606.8 L692.4,1604.7 L693.7,1602.8 L695.1,1600.9 L696.6,1599.2 L698.1,1597.6 L699.6,1596.2 L701.2,1594.9 L702.9,1593.6 L704.5,1592.4 L706.1,1591.2 L707.5,1589.9 L709.0,1588.8 L710.6,1587.7 L712.6,1586.8 L714.9,1586.2 L717.9,1585.9 L721.6,1585.9 L725.5,1586.1 L729.4,1586.3 L732.9,1586.4 L735.6,1586.2 L737.4,1585.6 L738.6,1584.7 L739.3,1583.6 L739.9,1582.6 L740.5,1581.7 L741.3,1581.1 L742.3,1580.8 L743.4,1580.6 L744.5,1580.5 L745.6,1580.7 L746.7,1581.1 L747.9,1581.7 L749.1,1582.7 L750.2,1584.2 L751.4,1585.8 L752.6,1587.6 L753.9,1589.2 L755.4,1590.5 L757.1,1591.5 L758.9,1592.3 L760.8,1593.0 L762.8,1593.7 L764.8,1594.4 L766.7,1595.2 L768.6,1596.2 L770.5,1597.2 L772.4,1598.3 L774.2,1599.4 L776.1,1600.3 L778.0,1600.9 L779.9,1601.4 L781.9,1601.8 L783.9,1602.1 L785.9,1602.1 L787.7,1601.7 L789.3,1600.9 L790.7,1599.5 L791.9,1597.5 L792.9,1595.2 L793.9,1592.6 L794.9,1590.1 L795.9,1587.7 L796.9,1585.3 L797.8,1582.7 L798.8,1580.1 L799.7,1577.7 L800.6,1575.6 L801.6,1574.1 L802.7,1573.1 L803.8,1572.6 L804.9,1572.4 L806.0,1572.5 L807.1,1572.9 L808.2,1573.6 L809.2,1574.6 L810.1,1576.0 L811.0,1577.7 L811.9,1579.6 L812.8,1581.7 L813.8,1583.9 L814.8,1586.3 L815.9,1589.1 L816.9,1592.1 L818.0,1595.0 L819.2,1597.7 L820.4,1600.0 L821.7,1601.8 L823.1,1603.3 L824.5,1604.5 L825.9,1605.7 L827.4,1606.9 L828.9,1608.4 L830.4,1610.1 L832.0,1611.8 L833.6,1613.6 L835.2,1615.5 L836.8,1617.5 L838.3,1619.7 L839.8,1622.2 L841.2,1625.1 L842.6,1628.1 L844.0,1631.1 L845.4,1633.7 L846.8,1635.8 L848.2,1637.4 L849.7,1638.6 L851.2,1639.5 L852.7,1640.2 L854.0,1640.6 L855.3,1640.9 L856.4,1641.0 L857.3,1640.8 L858.1,1640.4 L858.9,1639.9 L859.9,1639.2 L861.0,1638.6 L862.4,1637.8 L863.9,1636.9 L865.5,1635.9 L867.1,1634.9 L868.8,1634.0 L870.4,1633.3 L872.0,1632.9 L873.6,1632.7 L875.2,1632.7 L876.8,1632.7 L878.3,1632.6 L879.8,1632.4 L881.2,1632.0 L882.5,1631.5 L883.7,1630.9 L884.9,1630.3 L886.2,1629.8 L887.4,1629.5 L888.7,1629.4 L890.0,1629.3 L891.3,1629.3 L892.5,1629.5 L893.8,1629.7 L894.9,1630.1 L895.9,1630.7 L896.9,1631.5 L897.8,1632.3 L898.6,1633.3 L899.5,1634.1 L900.5,1634.8 L901.5,1635.4 L902.6,1636.0 L903.7,1636.5 L904.9,1636.9 L906.0,1637.1 L907.1,1637.1 L908.2,1636.8 L909.2,1636.4 L910.2,1635.7 L911.3,1634.9 L912.4,1633.9 L913.7,1632.9 L915.2,1631.6 L916.8,1630.1 L918.5,1628.4 L920.2,1626.8 L921.8,1625.3 L923.2,1624.1 L924.3,1623.2 L925.3,1622.5 L926.2,1622.0 L927.0,1621.6 L927.9,1621.4 L928.8,1621.3 L929.8,1621.3 L930.9,1621.4 L932.0,1621.6 L933.2,1622.0 L934.3,1622.6 L935.4,1623.5 L936.5,1624.7 L937.6,1626.3 L938.6,1628.1 L939.7,1630.0 L940.8,1632.0 L942.0,1633.9 L943.2,1635.9 L944.5,1638.1 L945.9,1640.4 L947.2,1642.6 L948.4,1644.5 L949.6,1646.1 L950.6,1647.3 L951.5,1648.3 L952.4,1649.0 L953.3,1649.5 L954.2,1650.0 L955.2,1650.3 L956.4,1650.6 L957.6,1650.7 L958.9,1650.8 L960.2,1650.7 L961.5,1650.4 L962.8,1649.9 L964.1,1649.1 L965.3,1648.0 L966.6,1646.7 L967.8,1645.3 L969.1,1644.2 L970.3,1643.3 L971.5,1642.7 L972.8,1642.4 L974.0,1642.1 L975.3,1642.0 L976.5,1642.0 L977.8,1642.0 L979.0,1642.2 L980.3,1642.5 L981.5,1642.9 L982.7,1643.3 L984.0,1643.7 L985.4,1643.9 L986.9,1644.1 L988.5,1644.4 L990.1,1644.6 L991.7,1644.6 L993.3,1644.4 L994.8,1643.9 L996.2,1642.9 L997.5,1641.7 L998.7,1640.1 L999.9,1638.4 L1001.1,1636.6 L1002.3,1634.8 L1003.5,1632.8 L1004.7,1630.5 L1005.8,1628.2 L1006.9,1626.0 L1008.0,1624.0 L1008.9,1622.6 L1009.7,1621.7 L1010.3,1621.1 L1010.9,1620.9 L1011.5,1620.9 L1012.0,1621.1 L1012.7,1621.6 L1013.4,1622.3 L1014.2,1623.4 L1014.9,1624.6 L1015.7,1626.1 L1016.5,1627.6 L1017.4,1629.2 L1018.3,1630.9 L1019.2,1632.9 L1020.1,1635.0 L1021.0,1637.0 L1022.0,1638.9 L1023.1,1640.5 L1024.3,1641.9 L1025.5,1643.1 L1026.9,1644.2 L1028.2,1645.1 L1029.4,1645.7 L1030.6,1646.1 L1031.7,1646.3 L1032.6,1646.3 L1033.6,1646.2 L1034.5,1645.7 L1035.4,1644.7 L1036.3,1643.3 L1037.2,1641.2 L1038.1,1638.6 L1039.0,1635.6 L1040.0,1632.3 L1040.9,1628.8 L1041.9,1625.4 L1043.0,1621.8 L1044.1,1617.7 L1045.3,1613.6 L1046.4,1609.5 L1047.5,1605.9 L1048.5,1602.8 L1049.4,1600.4 L1050.2,1598.4 L1050.9,1596.8 L1051.6,1595.5 L1052.3,1594.4 L1053.0,1593.4 L1053.7,1592.6 L1054.5,1592.0 L1055.2,1591.7 L1055.8,1591.4 L1056.4,1591.3 L1056.8,1591.1 L1057.2,1591.8 L1057.8,1592.6 L1058.4,1593.6 L1059.1,1595.0 L1059.8,1596.7 L1060.5,1599.0 L1061.1,1601.9 L1061.8,1605.4 L1062.4,1609.4 L1063.0,1613.5 L1063.7,1617.7 L1064.3,1621.6 L1064.9,1625.4 L1065.5,1629.3 L1066.2,1633.2 L1066.8,1637.0 L1067.4,1640.7 L1068.0,1644.3 L1068.6,1647.7 L1069.2,1651.1 L1069.8,1654.4 L1070.5,1657.5 L1071.1,1660.4 L1071.8,1663.1 L1072.5,1665.5 L1073.3,1667.6 L1074.1,1669.5 L1074.9,1671.3 L1075.7,1672.9 L1076.6,1674.4 L1077.5,1675.8 L1078.4,1676.9 L1079.3,1678.0 L1080.2,1678.9 L1081.2,1679.7 L1082.2,1680.4 L1083.2,1681.0 L1084.2,1681.4 L1085.2,1681.7 L1086.3,1682.0 L1087.5,1682.2 L1088.8,1682.3 L1090.3,1682.3 L1092.0,1682.2 L1093.7,1682.1 L1095.5,1681.9 L1097.4,1681.9 L1099.2,1682.0 L1100.8,1682.4 L1102.1,1683.0 L1103.5,1683.6 L1105.2,1684.3 L1107.4,1684.9 L1110.5,1685.3 L1114.9,1685.4 L1120.4,1685.3 L1126.5,1685.1 L1132.6,1684.9 L1138.1,1684.9 L1142.5,1685.3 L1145.5,1686.1 L1147.4,1687.4 L1148.9,1688.8 L1150.1,1690.2 L1151.6,1691.4 L1153.8,1692.3 L1156.8,1692.7 L1160.2,1692.7 L1164.0,1692.6 L1167.7,1692.4 L1171.4,1692.4 L1174.6,1692.7 L1177.4,1693.3 L1179.9,1694.1 L1182.3,1695.0 L1184.6,1696.0 L1187.0,1697.0 L1189.7,1698.0 L1192.7,1699.0 L1196.0,1700.0 L1199.3,1701.0 L1202.7,1702.0 L1205.8,1702.9 L1208.5,1703.6 L1210.8,1704.2 L1212.9,1704.6 L1214.7,1705.0 L1216.5,1705.3 L1218.1,1705.4 L1219.8,1705.5 L1221.5,1705.4 L1223.0,1705.3 L1224.6,1705.0 L1226.1,1704.6 L1227.6,1704.1 L1229.2,1703.6 L1231.0,1702.9 L1233.0,1701.9 L1235.0,1700.9 L1236.9,1699.9 L1238.5,1699.1 L1239.6,1698.5 L1240.3,1698.9 L1241.2,1699.3 L1242.3,1699.9 L1243.5,1700.6 L1244.9,1701.5 L1246.2,1702.7 L1247.6,1704.2 L1249.1,1706.1 L1250.7,1708.2 L1252.4,1710.3 L1254.0,1712.3 L1255.6,1714.0 L1257.1,1715.5 L1258.5,1716.8 L1259.9,1718.0 L1261.4,1719.2 L1263.1,1720.2 L1265.0,1721.2 L1267.1,1722.1 L1269.2,1722.8 L1271.5,1723.4 L1274.0,1724.0 L1276.9,1724.6 L1280.1,1725.3 L1284.0,1726.1 L1288.5,1726.9 L1293.3,1727.8 L1298.1,1728.7 L1302.6,1729.4 L1306.5,1730.0 L1309.5,1730.4 L1311.9,1730.6 L1313.9,1730.7 L1316.0,1730.8 L1318.5,1730.9 L1321.6,1731.3 L1325.6,1731.9 L1330.1,1732.6 L1334.9,1733.5 L1340.0,1734.3 L1345.0,1735.1 L1349.9,1735.7 L1354.3,1736.1 L1358.2,1736.4 L1362.1,1736.6 L1366.4,1736.8 L1371.7,1737.0 L1378.2,1737.2 L1385.7,1737.4 L1393.7,1737.6 L1402.6,1737.8 L1412.7,1738.0 L1424.4,1738.3 L1438.0,1738.5 L1454.0,1738.8 L1472.2,1739.0 L1491.9,1739.3 L1512.7,1739.6 L1533.9,1739.9 L1555.0,1740.2 L1577.8,1740.5 L1603.1,1740.9 L1628.8,1741.3 L1652.9,1741.7 L1673.3,1742.0 L1688.0,1742.2 L1727.4,1742.2 L1785.0,1742.2 L1851.7,1742.2 L1918.3,1742.2 L1975.9,1742.2 L2015.3,1742.2 L2015.3,1744.8 L142.1,1744.8 Z"/>
<g class="grid" filter="url(#soft3)">
<line class="gd" x1="150.78" y1="1625.6" x2="2015.6" y2="1625.6"/>
<line class="gd" x1="150.78" y1="1506.6" x2="2015.6" y2="1506.6"/>
<line class="gd" x1="150.78" y1="1386.3" x2="2015.6" y2="1386.3"/>
<line class="gd" x1="150.78" y1="1266.9" x2="2015.6" y2="1266.9"/>
<line class="gd" x1="150.78" y1="1147.4" x2="2015.6" y2="1147.4"/>
<line class="gv" x1="289.5" y1="1082.49" x2="289.5" y2="1741.8"/>
<line class="gv" x1="535.8" y1="1082.49" x2="535.8" y2="1741.8"/>
<line class="gv" x1="781.8" y1="1082.49" x2="781.8" y2="1741.8"/>
<line class="gv" x1="1029.0" y1="1082.49" x2="1029.0" y2="1741.8"/>
<line class="gv" x1="1275.4" y1="1082.49" x2="1275.4" y2="1741.8"/>
<line class="gv" x1="1521.8" y1="1082.49" x2="1521.8" y2="1741.8"/>
<line class="gv" x1="1769.0" y1="1082.49" x2="1769.0" y2="1741.8"/>
<line class="gv" x1="2015.6" y1="1082.49" x2="2015.6" y2="1741.8"/>
</g>
</g>
<g class="lines" filter="url(#soft)">
<path class="rgl" d="M431.4,1743.5 L431.4,1755.8 L535.7,1755.8 L535.7,1691.4"/>
<path class="rg" d="M432.1,1742.5 L432.1,1754.0 L536.4,1754.0 L536.4,1690.4"/>
<path class="rgl" d="M1031.0,1647.2 L1031.0,1755.8 L1088.4,1755.8 L1088.4,1683.3"/>
<path class="rg" d="M1031.7,1646.2 L1031.7,1754.0 L1089.1,1754.0 L1089.1,1682.3"/>
<path class="rgl" d="M1220.8,1706.5 L1220.8,1755.8 L1307.1,1755.8 L1307.1,1731.1"/>
<path class="rg" d="M1221.5,1705.5 L1221.5,1754.0 L1307.8,1754.0 L1307.8,1730.1"/>
<path class="cv" d="M142.1,1742.2 L176.5,1742.2 L226.8,1742.2 L285.1,1742.2 L343.3,1742.2 L393.6,1742.2 L428.0,1742.2 L428.3,1742.3 L428.7,1742.3 L429.1,1742.5 L429.6,1742.5 L430.1,1742.6 L430.6,1742.6 L431.1,1742.6 L431.5,1742.5 L432.0,1742.4 L432.5,1742.3 L433.1,1742.1 L433.8,1741.8 L434.6,1741.5 L435.5,1741.2 L436.5,1740.8 L437.5,1740.3 L438.4,1739.6 L439.4,1738.6 L440.3,1737.3 L441.2,1735.7 L442.1,1733.9 L443.1,1732.0 L444.0,1729.8 L444.9,1727.5 L445.8,1725.0 L446.8,1722.4 L447.8,1719.5 L448.8,1716.5 L449.7,1713.4 L450.5,1710.0 L451.3,1706.4 L452.0,1702.5 L452.6,1698.5 L453.2,1694.4 L453.8,1690.2 L454.4,1686.2 L455.0,1682.2 L455.5,1678.3 L456.1,1674.3 L456.6,1670.4 L457.1,1666.5 L457.6,1662.5 L458.1,1658.6 L458.6,1654.9 L459.1,1651.1 L459.6,1647.2 L460.0,1643.1 L460.5,1638.7 L460.9,1633.9 L461.4,1628.7 L461.8,1623.3 L462.2,1617.9 L462.6,1612.4 L463.1,1607.0 L463.6,1601.7 L464.1,1596.4 L464.7,1591.1 L465.2,1585.8 L465.8,1580.5 L466.3,1575.2 L466.8,1569.9 L467.3,1564.5 L467.8,1559.1 L468.4,1553.7 L468.9,1548.5 L469.5,1543.5 L470.1,1538.5 L470.8,1533.5 L471.5,1528.7 L472.1,1524.1 L472.8,1520.0 L473.5,1516.5 L474.2,1513.7 L475.0,1511.4 L475.7,1509.7 L476.4,1508.3 L477.0,1507.1 L477.4,1506.2 L477.7,1507.1 L478.2,1508.3 L478.8,1509.7 L479.4,1511.4 L480.0,1513.7 L480.6,1516.5 L481.1,1520.0 L481.6,1524.1 L482.2,1528.7 L482.7,1533.5 L483.2,1538.5 L483.8,1543.5 L484.4,1548.5 L485.0,1553.8 L485.7,1559.2 L486.4,1564.7 L487.0,1570.0 L487.7,1575.2 L488.4,1580.2 L489.0,1585.1 L489.7,1590.0 L490.4,1594.7 L491.0,1599.4 L491.7,1603.8 L492.4,1608.1 L493.0,1612.2 L493.7,1616.2 L494.4,1620.1 L495.0,1623.9 L495.7,1627.5 L496.4,1631.0 L497.0,1634.4 L497.7,1637.7 L498.3,1640.9 L498.9,1643.8 L499.6,1646.6 L500.3,1649.1 L500.9,1651.4 L501.5,1653.5 L502.2,1655.5 L502.9,1657.4 L503.6,1659.3 L504.3,1661.2 L505.1,1663.0 L505.9,1664.7 L506.7,1666.4 L507.5,1668.0 L508.4,1669.6 L509.3,1671.2 L510.3,1672.6 L511.3,1674.1 L512.3,1675.5 L513.4,1676.9 L514.7,1678.3 L516.1,1679.7 L517.6,1681.1 L519.2,1682.5 L520.8,1683.9 L522.5,1685.1 L524.2,1686.2 L526.0,1687.1 L527.8,1687.8 L529.6,1688.4 L531.5,1689.0 L533.4,1689.6 L535.3,1690.2 L537.0,1690.9 L538.6,1691.7 L540.1,1692.4 L541.9,1693.1 L543.9,1693.7 L546.4,1694.2 L549.3,1694.5 L552.4,1694.7 L555.9,1694.9 L559.7,1694.9 L563.9,1695.0 L568.7,1695.0 L574.5,1695.1 L581.3,1695.1 L588.5,1695.1 L595.6,1695.1 L601.8,1695.0 L606.7,1694.7 L609.9,1694.3 L611.8,1693.9 L612.9,1693.4 L613.7,1692.8 L614.7,1692.0 L616.3,1691.0 L618.6,1689.8 L621.3,1688.3 L624.1,1686.7 L627.0,1685.0 L629.7,1683.2 L632.1,1681.5 L634.3,1679.8 L636.3,1678.0 L638.1,1676.2 L639.9,1674.4 L641.6,1672.5 L643.2,1670.4 L644.7,1668.1 L646.2,1665.6 L647.5,1663.0 L648.8,1660.4 L650.0,1658.1 L651.2,1656.1 L652.3,1654.6 L653.2,1653.4 L654.1,1652.5 L655.0,1651.6 L656.1,1650.8 L657.5,1649.8 L659.3,1648.8 L661.4,1647.8 L663.6,1646.8 L666.0,1645.8 L668.2,1644.7 L670.2,1643.4 L672.0,1642.0 L673.7,1640.7 L675.3,1639.2 L676.8,1637.6 L678.3,1635.6 L679.7,1633.4 L681.1,1630.7 L682.4,1627.4 L683.7,1624.0 L685.0,1620.4 L686.2,1617.1 L687.5,1614.1 L688.8,1611.5 L690.0,1609.1 L691.2,1606.8 L692.4,1604.7 L693.7,1602.8 L695.1,1600.9 L696.6,1599.2 L698.1,1597.6 L699.6,1596.2 L701.2,1594.9 L702.9,1593.6 L704.5,1592.4 L706.1,1591.2 L707.5,1589.9 L709.0,1588.8 L710.6,1587.7 L712.6,1586.8 L714.9,1586.2 L717.9,1585.9 L721.6,1585.9 L725.5,1586.1 L729.4,1586.3 L732.9,1586.4 L735.6,1586.2 L737.4,1585.6 L738.6,1584.7 L739.3,1583.6 L739.9,1582.6 L740.5,1581.7 L741.3,1581.1 L742.3,1580.8 L743.4,1580.6 L744.5,1580.5 L745.6,1580.7 L746.7,1581.1 L747.9,1581.7 L749.1,1582.7 L750.2,1584.2 L751.4,1585.8 L752.6,1587.6 L753.9,1589.2 L755.4,1590.5 L757.1,1591.5 L758.9,1592.3 L760.8,1593.0 L762.8,1593.7 L764.8,1594.4 L766.7,1595.2 L768.6,1596.2 L770.5,1597.2 L772.4,1598.3 L774.2,1599.4 L776.1,1600.3 L778.0,1600.9 L779.9,1601.4 L781.9,1601.8 L783.9,1602.1 L785.9,1602.1 L787.7,1601.7 L789.3,1600.9 L790.7,1599.5 L791.9,1597.5 L792.9,1595.2 L793.9,1592.6 L794.9,1590.1 L795.9,1587.7 L796.9,1585.3 L797.8,1582.7 L798.8,1580.1 L799.7,1577.7 L800.6,1575.6 L801.6,1574.1 L802.7,1573.1 L803.8,1572.6 L804.9,1572.4 L806.0,1572.5 L807.1,1572.9 L808.2,1573.6 L809.2,1574.6 L810.1,1576.0 L811.0,1577.7 L811.9,1579.6 L812.8,1581.7 L813.8,1583.9 L814.8,1586.3 L815.9,1589.1 L816.9,1592.1 L818.0,1595.0 L819.2,1597.7 L820.4,1600.0 L821.7,1601.8 L823.1,1603.3 L824.5,1604.5 L825.9,1605.7 L827.4,1606.9 L828.9,1608.4 L830.4,1610.1 L832.0,1611.8 L833.6,1613.6 L835.2,1615.5 L836.8,1617.5 L838.3,1619.7 L839.8,1622.2 L841.2,1625.1 L842.6,1628.1 L844.0,1631.1 L845.4,1633.7 L846.8,1635.8 L848.2,1637.4 L849.7,1638.6 L851.2,1639.5 L852.7,1640.2 L854.0,1640.6 L855.3,1640.9 L856.4,1641.0 L857.3,1640.8 L858.1,1640.4 L858.9,1639.9 L859.9,1639.2 L861.0,1638.6 L862.4,1637.8 L863.9,1636.9 L865.5,1635.9 L867.1,1634.9 L868.8,1634.0 L870.4,1633.3 L872.0,1632.9 L873.6,1632.7 L875.2,1632.7 L876.8,1632.7 L878.3,1632.6 L879.8,1632.4 L881.2,1632.0 L882.5,1631.5 L883.7,1630.9 L884.9,1630.3 L886.2,1629.8 L887.4,1629.5 L888.7,1629.4 L890.0,1629.3 L891.3,1629.3 L892.5,1629.5 L893.8,1629.7 L894.9,1630.1 L895.9,1630.7 L896.9,1631.5 L897.8,1632.3 L898.6,1633.3 L899.5,1634.1 L900.5,1634.8 L901.5,1635.4 L902.6,1636.0 L903.7,1636.5 L904.9,1636.9 L906.0,1637.1 L907.1,1637.1 L908.2,1636.8 L909.2,1636.4 L910.2,1635.7 L911.3,1634.9 L912.4,1633.9 L913.7,1632.9 L915.2,1631.6 L916.8,1630.1 L918.5,1628.4 L920.2,1626.8 L921.8,1625.3 L923.2,1624.1 L924.3,1623.2 L925.3,1622.5 L926.2,1622.0 L927.0,1621.6 L927.9,1621.4 L928.8,1621.3 L929.8,1621.3 L930.9,1621.4 L932.0,1621.6 L933.2,1622.0 L934.3,1622.6 L935.4,1623.5 L936.5,1624.7 L937.6,1626.3 L938.6,1628.1 L939.7,1630.0 L940.8,1632.0 L942.0,1633.9 L943.2,1635.9 L944.5,1638.1 L945.9,1640.4 L947.2,1642.6 L948.4,1644.5 L949.6,1646.1 L950.6,1647.3 L951.5,1648.3 L952.4,1649.0 L953.3,1649.5 L954.2,1650.0 L955.2,1650.3 L956.4,1650.6 L957.6,1650.7 L958.9,1650.8 L960.2,1650.7 L961.5,1650.4 L962.8,1649.9 L964.1,1649.1 L965.3,1648.0 L966.6,1646.7 L967.8,1645.3 L969.1,1644.2 L970.3,1643.3 L971.5,1642.7 L972.8,1642.4 L974.0,1642.1 L975.3,1642.0 L976.5,1642.0 L977.8,1642.0 L979.0,1642.2 L980.3,1642.5 L981.5,1642.9 L982.7,1643.3 L984.0,1643.7 L985.4,1643.9 L986.9,1644.1 L988.5,1644.4 L990.1,1644.6 L991.7,1644.6 L993.3,1644.4 L994.8,1643.9 L996.2,1642.9 L997.5,1641.7 L998.7,1640.1 L999.9,1638.4 L1001.1,1636.6 L1002.3,1634.8 L1003.5,1632.8 L1004.7,1630.5 L1005.8,1628.2 L1006.9,1626.0 L1008.0,1624.0 L1008.9,1622.6 L1009.7,1621.7 L1010.3,1621.1 L1010.9,1620.9 L1011.5,1620.9 L1012.0,1621.1 L1012.7,1621.6 L1013.4,1622.3 L1014.2,1623.4 L1014.9,1624.6 L1015.7,1626.1 L1016.5,1627.6 L1017.4,1629.2 L1018.3,1630.9 L1019.2,1632.9 L1020.1,1635.0 L1021.0,1637.0 L1022.0,1638.9 L1023.1,1640.5 L1024.3,1641.9 L1025.5,1643.1 L1026.9,1644.2 L1028.2,1645.1 L1029.4,1645.7 L1030.6,1646.1 L1031.7,1646.3 L1032.6,1646.3 L1033.6,1646.2 L1034.5,1645.7 L1035.4,1644.7 L1036.3,1643.3 L1037.2,1641.2 L1038.1,1638.6 L1039.0,1635.6 L1040.0,1632.3 L1040.9,1628.8 L1041.9,1625.4 L1043.0,1621.8 L1044.1,1617.7 L1045.3,1613.6 L1046.4,1609.5 L1047.5,1605.9 L1048.5,1602.8 L1049.4,1600.4 L1050.2,1598.4 L1050.9,1596.8 L1051.6,1595.5 L1052.3,1594.4 L1053.0,1593.4 L1053.7,1592.6 L1054.5,1592.0 L1055.2,1591.7 L1055.8,1591.4 L1056.4,1591.3 L1056.8,1591.1 L1057.2,1591.8 L1057.8,1592.6 L1058.4,1593.6 L1059.1,1595.0 L1059.8,1596.7 L1060.5,1599.0 L1061.1,1601.9 L1061.8,1605.4 L1062.4,1609.4 L1063.0,1613.5 L1063.7,1617.7 L1064.3,1621.6 L1064.9,1625.4 L1065.5,1629.3 L1066.2,1633.2 L1066.8,1637.0 L1067.4,1640.7 L1068.0,1644.3 L1068.6,1647.7 L1069.2,1651.1 L1069.8,1654.4 L1070.5,1657.5 L1071.1,1660.4 L1071.8,1663.1 L1072.5,1665.5 L1073.3,1667.6 L1074.1,1669.5 L1074.9,1671.3 L1075.7,1672.9 L1076.6,1674.4 L1077.5,1675.8 L1078.4,1676.9 L1079.3,1678.0 L1080.2,1678.9 L1081.2,1679.7 L1082.2,1680.4 L1083.2,1681.0 L1084.2,1681.4 L1085.2,1681.7 L1086.3,1682.0 L1087.5,1682.2 L1088.8,1682.3 L1090.3,1682.3 L1092.0,1682.2 L1093.7,1682.1 L1095.5,1681.9 L1097.4,1681.9 L1099.2,1682.0 L1100.8,1682.4 L1102.1,1683.0 L1103.5,1683.6 L1105.2,1684.3 L1107.4,1684.9 L1110.5,1685.3 L1114.9,1685.4 L1120.4,1685.3 L1126.5,1685.1 L1132.6,1684.9 L1138.1,1684.9 L1142.5,1685.3 L1145.5,1686.1 L1147.4,1687.4 L1148.9,1688.8 L1150.1,1690.2 L1151.6,1691.4 L1153.8,1692.3 L1156.8,1692.7 L1160.2,1692.7 L1164.0,1692.6 L1167.7,1692.4 L1171.4,1692.4 L1174.6,1692.7 L1177.4,1693.3 L1179.9,1694.1 L1182.3,1695.0 L1184.6,1696.0 L1187.0,1697.0 L1189.7,1698.0 L1192.7,1699.0 L1196.0,1700.0 L1199.3,1701.0 L1202.7,1702.0 L1205.8,1702.9 L1208.5,1703.6 L1210.8,1704.2 L1212.9,1704.6 L1214.7,1705.0 L1216.5,1705.3 L1218.1,1705.4 L1219.8,1705.5 L1221.5,1705.4 L1223.0,1705.3 L1224.6,1705.0 L1226.1,1704.6 L1227.6,1704.1 L1229.2,1703.6 L1231.0,1702.9 L1233.0,1701.9 L1235.0,1700.9 L1236.9,1699.9 L1238.5,1699.1 L1239.6,1698.5 L1240.3,1698.9 L1241.2,1699.3 L1242.3,1699.9 L1243.5,1700.6 L1244.9,1701.5 L1246.2,1702.7 L1247.6,1704.2 L1249.1,1706.1 L1250.7,1708.2 L1252.4,1710.3 L1254.0,1712.3 L1255.6,1714.0 L1257.1,1715.5 L1258.5,1716.8 L1259.9,1718.0 L1261.4,1719.2 L1263.1,1720.2 L1265.0,1721.2 L1267.1,1722.1 L1269.2,1722.8 L1271.5,1723.4 L1274.0,1724.0 L1276.9,1724.6 L1280.1,1725.3 L1284.0,1726.1 L1288.5,1726.9 L1293.3,1727.8 L1298.1,1728.7 L1302.6,1729.4 L1306.5,1730.0 L1309.5,1730.4 L1311.9,1730.6 L1313.9,1730.7 L1316.0,1730.8 L1318.5,1730.9 L1321.6,1731.3 L1325.6,1731.9 L1330.1,1732.6 L1334.9,1733.5 L1340.0,1734.3 L1345.0,1735.1 L1349.9,1735.7 L1354.3,1736.1 L1358.2,1736.4 L1362.1,1736.6 L1366.4,1736.8 L1371.7,1737.0 L1378.2,1737.2 L1385.7,1737.4 L1393.7,1737.6 L1402.6,1737.8 L1412.7,1738.0 L1424.4,1738.3 L1438.0,1738.5 L1454.0,1738.8 L1472.2,1739.0 L1491.9,1739.3 L1512.7,1739.6 L1533.9,1739.9 L1555.0,1740.2 L1577.8,1740.5 L1603.1,1740.9 L1628.8,1741.3 L1652.9,1741.7 L1673.3,1742.0 L1688.0,1742.2 L1727.4,1742.2 L1785.0,1742.2 L1851.7,1742.2 L1918.3,1742.2 L1975.9,1742.2 L2015.3,1742.2"/>
<line class="mk" x1="477.9" y1="1078.6" x2="477.9" y2="1507.5"/>
<line class="mk" x1="1057.0" y1="1078.6" x2="1057.0" y2="1591.4"/>
<line class="mk" x1="1240.0" y1="1078.6" x2="1240.0" y2="1698.7"/>
<line class="ax" x1="142.1" y1="1078.6" x2="142.1" y2="1746.1"/>
<line class="ax" x1="131.1" y1="1744.8" x2="2016.6" y2="1744.8"/>
<line class="gb" stroke-width="6.0" x1="1438.0" y1="1742.9" x2="1556.0" y2="1742.9"/>
<line class="gb" stroke-width="4.8" x1="1556.0" y1="1743.5" x2="1688.0" y2="1743.5"/>
<line class="bk" x1="142.1" y1="1743.7" x2="431.0" y2="1743.7"/>
<line class="bk" x1="1688.0" y1="1743.7" x2="2016.6" y2="1743.7"/>
<line class="tk" x1="131.1" y1="1625.6" x2="142.1" y2="1625.6"/>
<line class="tk" x1="131.1" y1="1506.6" x2="142.1" y2="1506.6"/>
<line class="tk" x1="131.1" y1="1386.3" x2="142.1" y2="1386.3"/>
<line class="tk" x1="131.1" y1="1266.9" x2="142.1" y2="1266.9"/>
<line class="tk" x1="131.1" y1="1147.4" x2="142.1" y2="1147.4"/>
<line class="tk" x1="136.7" y1="1101.0" x2="142.1" y2="1101.0"/>
<line class="tk" x1="136.7" y1="1125.0" x2="142.1" y2="1125.0"/>
<line class="tk" x1="136.7" y1="1171.7" x2="142.1" y2="1171.7"/>
<line class="tk" x1="136.7" y1="1196.0" x2="142.1" y2="1196.0"/>
<line class="tk" x1="136.7" y1="1221.0" x2="142.1" y2="1221.0"/>
<line class="tk" x1="136.7" y1="1243.0" x2="142.1" y2="1243.0"/>
<line class="tk" x1="136.7" y1="1291.0" x2="142.1" y2="1291.0"/>
<line class="tk" x1="136.7" y1="1316.0" x2="142.1" y2="1316.0"/>
<line class="tk" x1="136.7" y1="1340.4" x2="142.1" y2="1340.4"/>
<line class="tk" x1="136.7" y1="1362.6" x2="142.1" y2="1362.6"/>
<line class="tk" x1="136.7" y1="1411.0" x2="142.1" y2="1411.0"/>
<line class="tk" x1="136.7" y1="1435.0" x2="142.1" y2="1435.0"/>
<line class="tk" x1="136.7" y1="1459.5" x2="142.1" y2="1459.5"/>
<line class="tk" x1="136.7" y1="1482.0" x2="142.1" y2="1482.0"/>
<line class="tk" x1="136.7" y1="1530.5" x2="142.1" y2="1530.5"/>
<line class="tk" x1="136.7" y1="1554.5" x2="142.1" y2="1554.5"/>
<line class="tk" x1="136.7" y1="1577.5" x2="142.1" y2="1577.5"/>
<line class="tk" x1="136.7" y1="1601.0" x2="142.1" y2="1601.0"/>
<line class="tk" x1="136.7" y1="1650.0" x2="142.1" y2="1650.0"/>
<line class="tk" x1="136.7" y1="1674.0" x2="142.1" y2="1674.0"/>
<line class="tk" x1="136.7" y1="1697.0" x2="142.1" y2="1697.0"/>
<line class="tk" x1="136.7" y1="1721.0" x2="142.1" y2="1721.0"/>
<line class="xt" x1="476.6" y1="1765.0" x2="476.6" y2="1837.5"/>
<line class="xt2" x1="478.8" y1="1765.0" x2="478.8" y2="1837.5"/>
<line class="xt" x1="797.0" y1="1765.0" x2="797.0" y2="1837.5"/>
<line class="xt2" x1="799.2" y1="1765.0" x2="799.2" y2="1837.5"/>
<line class="xt" x1="941.0" y1="1765.0" x2="941.0" y2="1837.5"/>
<line class="xt2" x1="943.2" y1="1765.0" x2="943.2" y2="1837.5"/>
<line class="xt" x1="1078.3" y1="1765.0" x2="1078.3" y2="1837.5"/>
<line class="xt2" x1="1080.5" y1="1765.0" x2="1080.5" y2="1837.5"/>
<line class="xt" x1="1217.5" y1="1765.0" x2="1217.5" y2="1837.5"/>
<line class="xt2" x1="1219.7" y1="1765.0" x2="1219.7" y2="1837.5"/>
<line class="xt" x1="1343.0" y1="1765.0" x2="1343.0" y2="1837.5"/>
<line class="xt2" x1="1345.2" y1="1765.0" x2="1345.2" y2="1837.5"/>
<line class="xt" x1="1394.8" y1="1765.0" x2="1394.8" y2="1837.5"/>
<line class="xt2" x1="1397.0" y1="1765.0" x2="1397.0" y2="1837.5"/>
</g>
<g class="labels" filter="url(#soft)">
<text class="yl" x="86.8" y="1751.4" text-anchor="middle" textLength="15.4" lengthAdjust="spacingAndGlyphs">0</text>
<text class="yl" x="86.8" y="1632.2" text-anchor="middle" textLength="45.0" lengthAdjust="spacingAndGlyphs">500</text>
<text class="yl" x="86.8" y="1513.2" text-anchor="middle" textLength="59.8" lengthAdjust="spacingAndGlyphs">1000</text>
<text class="yl" x="86.8" y="1392.9" text-anchor="middle" textLength="59.8" lengthAdjust="spacingAndGlyphs">1500</text>
<text class="yl" x="86.8" y="1273.5" text-anchor="middle" textLength="59.8" lengthAdjust="spacingAndGlyphs">2000</text>
<text class="yl" x="86.8" y="1154.0" text-anchor="middle" textLength="59.8" lengthAdjust="spacingAndGlyphs">2500</text>
<text class="yt" transform="translate(32.2,1411.0) rotate(-90)" text-anchor="middle" textLength="376" lengthAdjust="spacingAndGlyphs">Sample Intensity [Normalized FU]</text>
<text class="xl" transform="translate(467.0,1834.9) rotate(-90)" textLength="28.0" lengthAdjust="spacingAndGlyphs">25</text>
<text class="xl" transform="translate(787.4,1834.9) rotate(-90)" textLength="42.5" lengthAdjust="spacingAndGlyphs">200</text>
<text class="xl" transform="translate(931.4,1834.9) rotate(-90)" textLength="42.5" lengthAdjust="spacingAndGlyphs">500</text>
<text class="xl" transform="translate(1068.7,1834.9) rotate(-90)" textLength="57.0" lengthAdjust="spacingAndGlyphs">1000</text>
<text class="xl" transform="translate(1207.9,1834.9) rotate(-90)" textLength="57.0" lengthAdjust="spacingAndGlyphs">2000</text>
<text class="xl" transform="translate(1333.4,1834.9) rotate(-90)" textLength="57.0" lengthAdjust="spacingAndGlyphs">4000</text>
<text class="xl" transform="translate(1385.2,1834.9) rotate(-90)" textLength="57.0" lengthAdjust="spacingAndGlyphs">6000</text>
<text class="ml" transform="translate(472.7,1064.0) rotate(-47.5)" textLength="72.5" lengthAdjust="spacingAndGlyphs">Lower</text>
<text class="ml" transform="translate(1051.8,1064.0) rotate(-47.5)" textLength="47" lengthAdjust="spacingAndGlyphs">18S</text>
<text class="ml" transform="translate(1234.8,1064.0) rotate(-47.5)" textLength="47" lengthAdjust="spacingAndGlyphs">28S</text>
<text class="sz" x="1988.5" y="1779.0" textLength="43" lengthAdjust="spacingAndGlyphs">Size</text>
<text class="sz" x="1988.5" y="1814.5" textLength="40" lengthAdjust="spacingAndGlyphs">[nt]</text>
</g>
</g>
</g>
<g id="annotations" filter="url(#soft2)">
<rect x="164.5" y="74.7" width="183.9" height="112.4" fill="none" stroke="#4472c4" stroke-width="2.7"/>
<rect x="169.9" y="955.8" width="178.5" height="112.4" fill="none" stroke="#4472c4" stroke-width="2.7"/>
<text class="big" font-size="58.5" style="font-family:'DejaVu Sans','Liberation Sans',sans-serif"><tspan x="191.8" y="150.6" textLength="130.0" lengthAdjust="spacingAndGlyphs">DNA</tspan></text>
<text class="big" font-size="58.5" style="font-family:'DejaVu Sans','Liberation Sans',sans-serif"><tspan x="194.2" y="1031.7" textLength="124.4" lengthAdjust="spacingAndGlyphs">RNA</tspan></text>
<g id="title-dna">
<text class="big" font-size="56.2" style="font-family:'DejaVu Sans','Liberation Sans',sans-serif"><tspan x="608.0" y="63.0" textLength="256.5" lengthAdjust="spacingAndGlyphs">Genomic</tspan> <tspan x="874.8" y="63.0" textLength="131.1" lengthAdjust="spacingAndGlyphs">DNA</tspan> <tspan x="1016.2" y="63.0" textLength="329.6" lengthAdjust="spacingAndGlyphs">ScreenTape</tspan></text>
</g>
<g id="title-rna">
<text class="big" font-size="56.2" style="font-family:'DejaVu Sans','Liberation Sans',sans-serif"><tspan x="603.2" y="1005.5" textLength="130.4" lengthAdjust="spacingAndGlyphs">High</tspan> <tspan x="745.5" y="1005.5" textLength="286.5" lengthAdjust="spacingAndGlyphs">sensitivity</tspan> <tspan x="1043.2" y="1005.5" textLength="184.6" lengthAdjust="spacingAndGlyphs">screen</tspan> <tspan x="1245.7" y="1005.5" textLength="130.7" lengthAdjust="spacingAndGlyphs">tape</tspan></text>
</g>
<g id="din">
<text class="big" font-size="58.7" style="font-family:'DejaVu Sans','Liberation Sans',sans-serif"><tspan x="1765.9" y="151.0" textLength="106.9" lengthAdjust="spacingAndGlyphs">DIN</tspan> <tspan x="1887.3" y="151.0" textLength="20.5" lengthAdjust="spacingAndGlyphs">:</tspan> <tspan x="1920.5" y="151.0" textLength="89.7" lengthAdjust="spacingAndGlyphs">7.6</tspan></text>
</g>
<g id="rin">
<text class="big" font-size="58.7" style="font-family:'DejaVu Sans','Liberation Sans',sans-serif"><tspan x="1776.4" y="1023.1" textLength="103.4" lengthAdjust="spacingAndGlyphs">RIN</tspan> <tspan x="1892.8" y="1023.1" textLength="20.5" lengthAdjust="spacingAndGlyphs">:</tspan> <tspan x="1925.4" y="1023.1" textLength="90.0" lengthAdjust="spacingAndGlyphs">3.4</tspan></text>
<text class="big" font-size="58.7" style="font-family:'DejaVu Sans','Liberation Sans',sans-serif"><tspan x="1558.2" y="1106.3" textLength="238.0" lengthAdjust="spacingAndGlyphs">DV200%</tspan> <tspan x="1809.6" y="1106.3" textLength="20.5" lengthAdjust="spacingAndGlyphs">:</tspan> <tspan x="1842.7" y="1106.3" textLength="172.8" lengthAdjust="spacingAndGlyphs">60.9%</tspan></text>
</g>
</g>
</svg>
</body>
</html>
